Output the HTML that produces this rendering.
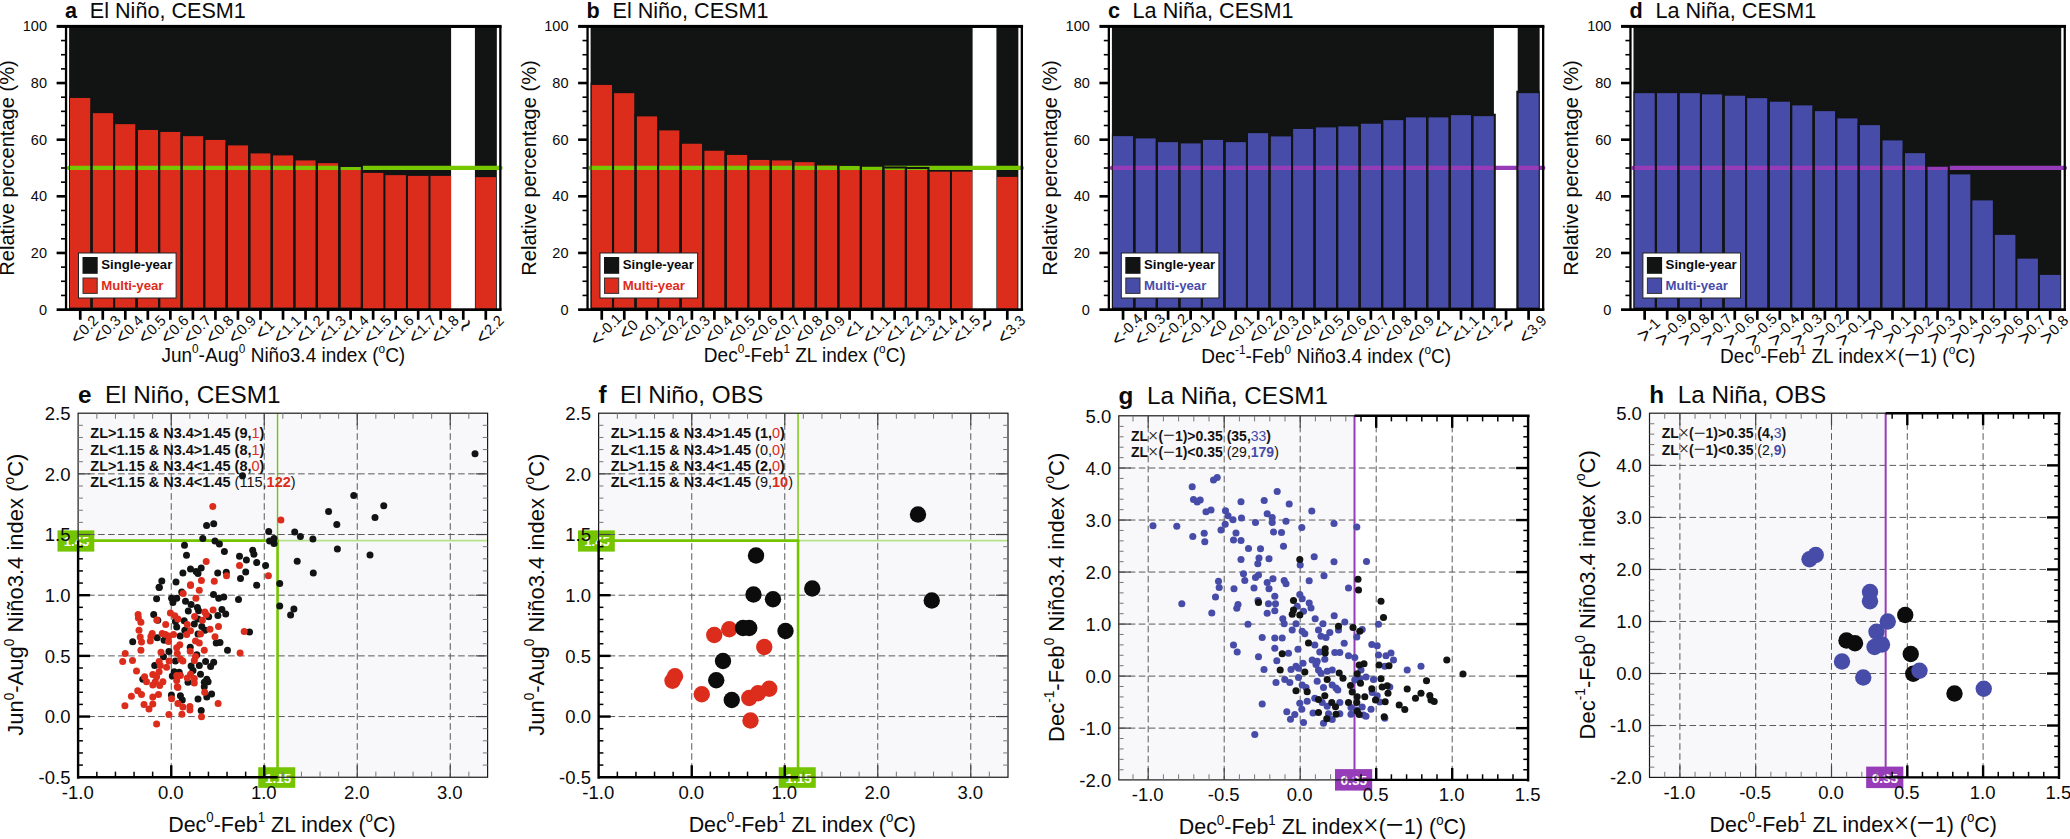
<!DOCTYPE html>
<html><head><meta charset="utf-8"><title>Figure</title>
<style>
html,body{margin:0;padding:0;background:#fff;}
svg{display:block;font-family:'Liberation Sans', Arial, Helvetica, sans-serif;}

</style></head>
<body>
<svg width="2070" height="839" viewBox="0 0 2070 839" fill="#0a0a0a">
<rect width="2070" height="839" fill="#fff"/>
<g>
<text x="65.1" y="17.8" font-size="21.6" xml:space="preserve" style="white-space:pre"><tspan font-weight="bold">a</tspan><tspan dx="0.7">  El Niño, CESM1</tspan></text>
<rect x="69.10" y="26.40" width="427.74" height="283.20" fill="#121413"/>
<rect x="70.00" y="97.90" width="20.50" height="211.70" fill="#dc2c1b"/>
<rect x="92.53" y="113.15" width="20.50" height="196.45" fill="#dc2c1b"/>
<rect x="115.06" y="124.15" width="20.50" height="185.45" fill="#dc2c1b"/>
<rect x="137.59" y="129.90" width="20.50" height="179.70" fill="#dc2c1b"/>
<rect x="160.12" y="131.90" width="20.50" height="177.70" fill="#dc2c1b"/>
<rect x="182.65" y="136.15" width="20.50" height="173.45" fill="#dc2c1b"/>
<rect x="205.18" y="139.90" width="20.50" height="169.70" fill="#dc2c1b"/>
<rect x="227.71" y="145.40" width="20.50" height="164.20" fill="#dc2c1b"/>
<rect x="250.24" y="153.40" width="20.50" height="156.20" fill="#dc2c1b"/>
<rect x="272.77" y="155.40" width="20.50" height="154.20" fill="#dc2c1b"/>
<rect x="295.30" y="160.40" width="20.50" height="149.20" fill="#dc2c1b"/>
<rect x="317.83" y="163.15" width="20.50" height="146.45" fill="#dc2c1b"/>
<rect x="340.36" y="167.40" width="20.50" height="142.20" fill="#dc2c1b"/>
<rect x="362.89" y="172.90" width="20.50" height="136.70" fill="#dc2c1b"/>
<rect x="385.42" y="175.15" width="20.50" height="134.45" fill="#dc2c1b"/>
<rect x="407.95" y="175.90" width="20.50" height="133.70" fill="#dc2c1b"/>
<rect x="430.48" y="175.90" width="20.50" height="133.70" fill="#dc2c1b"/>
<rect x="451.11" y="27.80" width="23.80" height="283.20" fill="#fff"/>
<rect x="475.54" y="177.15" width="20.50" height="132.45" fill="#dc2c1b"/>
<rect x="67.20" y="165.7" width="435.20" height="4.35" rx="1.5" fill="#76c600"/>
<clipPath id="cp0"><rect x="69.10" y="26.40" width="427.74" height="283.20"/></clipPath>
<g clip-path="url(#cp0)">
<rect x="68.98" y="96.48" width="22.53" height="212.10" fill="none" stroke="#121413" stroke-width="2.03"/>
<rect x="91.52" y="111.73" width="22.53" height="196.85" fill="none" stroke="#121413" stroke-width="2.03"/>
<rect x="114.05" y="122.73" width="22.53" height="185.85" fill="none" stroke="#121413" stroke-width="2.03"/>
<rect x="136.57" y="128.49" width="22.53" height="180.10" fill="none" stroke="#121413" stroke-width="2.03"/>
<rect x="159.11" y="130.49" width="22.53" height="178.10" fill="none" stroke="#121413" stroke-width="2.03"/>
<rect x="181.63" y="134.74" width="22.53" height="173.85" fill="none" stroke="#121413" stroke-width="2.03"/>
<rect x="204.17" y="138.49" width="22.53" height="170.10" fill="none" stroke="#121413" stroke-width="2.03"/>
<rect x="226.69" y="143.99" width="22.53" height="164.60" fill="none" stroke="#121413" stroke-width="2.03"/>
<rect x="249.23" y="151.99" width="22.53" height="156.60" fill="none" stroke="#121413" stroke-width="2.03"/>
<rect x="271.75" y="153.99" width="22.53" height="154.60" fill="none" stroke="#121413" stroke-width="2.03"/>
<rect x="294.29" y="158.99" width="22.53" height="149.60" fill="none" stroke="#121413" stroke-width="2.03"/>
<rect x="316.82" y="161.74" width="22.53" height="146.85" fill="none" stroke="#121413" stroke-width="2.03"/>
<rect x="339.35" y="165.99" width="22.53" height="142.60" fill="none" stroke="#121413" stroke-width="2.03"/>
</g>
<rect x="56.60" y="24.90" width="445.00" height="3" fill="#000"/>
<rect x="56.60" y="308.30" width="445.00" height="2.7" fill="#000"/>
<rect x="64.90" y="26.40" width="2.3" height="283.20" fill="#000"/>
<rect x="499.20" y="26.40" width="2.3" height="283.20" fill="#000"/>
<text x="47.00" y="314.50" font-size="14.5" text-anchor="end">0</text>
<rect x="61.00" y="294.64" width="5.0" height="1.6" fill="#000"/>
<rect x="61.00" y="280.48" width="5.0" height="1.6" fill="#000"/>
<rect x="61.00" y="266.32" width="5.0" height="1.6" fill="#000"/>
<rect x="56.60" y="251.66" width="9.4" height="2.6" fill="#000"/>
<text x="47.00" y="257.86" font-size="14.5" text-anchor="end">20</text>
<rect x="61.00" y="238.00" width="5.0" height="1.6" fill="#000"/>
<rect x="61.00" y="223.84" width="5.0" height="1.6" fill="#000"/>
<rect x="61.00" y="209.68" width="5.0" height="1.6" fill="#000"/>
<rect x="56.60" y="195.02" width="9.4" height="2.6" fill="#000"/>
<text x="47.00" y="201.22" font-size="14.5" text-anchor="end">40</text>
<rect x="61.00" y="181.36" width="5.0" height="1.6" fill="#000"/>
<rect x="61.00" y="167.20" width="5.0" height="1.6" fill="#000"/>
<rect x="61.00" y="153.04" width="5.0" height="1.6" fill="#000"/>
<rect x="56.60" y="138.38" width="9.4" height="2.6" fill="#000"/>
<text x="47.00" y="144.58" font-size="14.5" text-anchor="end">60</text>
<rect x="61.00" y="124.72" width="5.0" height="1.6" fill="#000"/>
<rect x="61.00" y="110.56" width="5.0" height="1.6" fill="#000"/>
<rect x="61.00" y="96.40" width="5.0" height="1.6" fill="#000"/>
<rect x="56.60" y="81.74" width="9.4" height="2.6" fill="#000"/>
<text x="47.00" y="87.94" font-size="14.5" text-anchor="end">80</text>
<rect x="61.00" y="68.08" width="5.0" height="1.6" fill="#000"/>
<rect x="61.00" y="53.92" width="5.0" height="1.6" fill="#000"/>
<rect x="61.00" y="39.76" width="5.0" height="1.6" fill="#000"/>
<text x="47.00" y="31.30" font-size="14.5" text-anchor="end">100</text>
<rect x="78.90" y="309.60" width="2.7" height="10.2" fill="#000"/>
<g transform="translate(85.25,328) rotate(-45)" font-size="14.8"><text x="-5.97" y="5.33">0.2</text><text transform="translate(-6.47,0.8) scale(1.3,1.45)" x="0" y="4.87" text-anchor="end">&lt;</text></g>
<rect x="101.43" y="309.60" width="2.7" height="10.2" fill="#000"/>
<g transform="translate(107.78,328) rotate(-45)" font-size="14.8"><text x="-5.97" y="5.33">0.3</text><text transform="translate(-6.47,0.8) scale(1.3,1.45)" x="0" y="4.87" text-anchor="end">&lt;</text></g>
<rect x="123.96" y="309.60" width="2.7" height="10.2" fill="#000"/>
<g transform="translate(130.31,328) rotate(-45)" font-size="14.8"><text x="-5.97" y="5.33">0.4</text><text transform="translate(-6.47,0.8) scale(1.3,1.45)" x="0" y="4.87" text-anchor="end">&lt;</text></g>
<rect x="146.49" y="309.60" width="2.7" height="10.2" fill="#000"/>
<g transform="translate(152.84,328) rotate(-45)" font-size="14.8"><text x="-5.97" y="5.33">0.5</text><text transform="translate(-6.47,0.8) scale(1.3,1.45)" x="0" y="4.87" text-anchor="end">&lt;</text></g>
<rect x="169.02" y="309.60" width="2.7" height="10.2" fill="#000"/>
<g transform="translate(175.37,328) rotate(-45)" font-size="14.8"><text x="-5.97" y="5.33">0.6</text><text transform="translate(-6.47,0.8) scale(1.3,1.45)" x="0" y="4.87" text-anchor="end">&lt;</text></g>
<rect x="191.55" y="309.60" width="2.7" height="10.2" fill="#000"/>
<g transform="translate(197.90,328) rotate(-45)" font-size="14.8"><text x="-5.97" y="5.33">0.7</text><text transform="translate(-6.47,0.8) scale(1.3,1.45)" x="0" y="4.87" text-anchor="end">&lt;</text></g>
<rect x="214.08" y="309.60" width="2.7" height="10.2" fill="#000"/>
<g transform="translate(220.43,328) rotate(-45)" font-size="14.8"><text x="-5.97" y="5.33">0.8</text><text transform="translate(-6.47,0.8) scale(1.3,1.45)" x="0" y="4.87" text-anchor="end">&lt;</text></g>
<rect x="236.61" y="309.60" width="2.7" height="10.2" fill="#000"/>
<g transform="translate(242.96,328) rotate(-45)" font-size="14.8"><text x="-5.97" y="5.33">0.9</text><text transform="translate(-6.47,0.8) scale(1.3,1.45)" x="0" y="4.87" text-anchor="end">&lt;</text></g>
<rect x="259.14" y="309.60" width="2.7" height="10.2" fill="#000"/>
<g transform="translate(265.49,328) rotate(-45)" font-size="14.8"><text x="0.21" y="5.33">1</text><text transform="translate(-0.29,0.8) scale(1.3,1.45)" x="0" y="4.87" text-anchor="end">&lt;</text></g>
<rect x="281.67" y="309.60" width="2.7" height="10.2" fill="#000"/>
<g transform="translate(288.02,328) rotate(-45)" font-size="14.8"><text x="-5.97" y="5.33">1.1</text><text transform="translate(-6.47,0.8) scale(1.3,1.45)" x="0" y="4.87" text-anchor="end">&lt;</text></g>
<rect x="304.20" y="309.60" width="2.7" height="10.2" fill="#000"/>
<g transform="translate(310.55,328) rotate(-45)" font-size="14.8"><text x="-5.97" y="5.33">1.2</text><text transform="translate(-6.47,0.8) scale(1.3,1.45)" x="0" y="4.87" text-anchor="end">&lt;</text></g>
<rect x="326.73" y="309.60" width="2.7" height="10.2" fill="#000"/>
<g transform="translate(333.08,328) rotate(-45)" font-size="14.8"><text x="-5.97" y="5.33">1.3</text><text transform="translate(-6.47,0.8) scale(1.3,1.45)" x="0" y="4.87" text-anchor="end">&lt;</text></g>
<rect x="349.26" y="309.60" width="2.7" height="10.2" fill="#000"/>
<g transform="translate(355.61,328) rotate(-45)" font-size="14.8"><text x="-5.97" y="5.33">1.4</text><text transform="translate(-6.47,0.8) scale(1.3,1.45)" x="0" y="4.87" text-anchor="end">&lt;</text></g>
<rect x="371.79" y="309.60" width="2.7" height="10.2" fill="#000"/>
<g transform="translate(378.14,328) rotate(-45)" font-size="14.8"><text x="-5.97" y="5.33">1.5</text><text transform="translate(-6.47,0.8) scale(1.3,1.45)" x="0" y="4.87" text-anchor="end">&lt;</text></g>
<rect x="394.32" y="309.60" width="2.7" height="10.2" fill="#000"/>
<g transform="translate(400.67,328) rotate(-45)" font-size="14.8"><text x="-5.97" y="5.33">1.6</text><text transform="translate(-6.47,0.8) scale(1.3,1.45)" x="0" y="4.87" text-anchor="end">&lt;</text></g>
<rect x="416.85" y="309.60" width="2.7" height="10.2" fill="#000"/>
<g transform="translate(423.20,328) rotate(-45)" font-size="14.8"><text x="-5.97" y="5.33">1.7</text><text transform="translate(-6.47,0.8) scale(1.3,1.45)" x="0" y="4.87" text-anchor="end">&lt;</text></g>
<rect x="439.38" y="309.60" width="2.7" height="10.2" fill="#000"/>
<g transform="translate(445.73,328) rotate(-45)" font-size="14.8"><text x="-5.97" y="5.33">1.8</text><text transform="translate(-6.47,0.8) scale(1.3,1.45)" x="0" y="4.87" text-anchor="end">&lt;</text></g>
<rect x="461.91" y="309.60" width="2.7" height="10.2" fill="#000"/>
<text transform="translate(465.56,325.6) rotate(-45) scale(1.0,1.6)" font-family="'DejaVu Sans', 'Liberation Sans', sans-serif" font-weight="200" stroke="#0a0a0a" stroke-width="0.35" font-size="19" text-anchor="middle" y="5.96">~</text>
<rect x="484.44" y="309.60" width="2.7" height="10.2" fill="#000"/>
<g transform="translate(490.79,328) rotate(-45)" font-size="14.8"><text x="-5.97" y="5.33">2.2</text><text transform="translate(-6.47,0.8) scale(1.3,1.45)" x="0" y="4.87" text-anchor="end">&lt;</text></g>
<text transform="translate(283.30,361.7) scale(0.915,1)" font-size="20.8" text-anchor="middle">Jun<tspan dy="-8.74" font-size="12.90">0</tspan><tspan dy="8.74">​</tspan>-Aug<tspan dy="-8.74" font-size="12.90">0</tspan><tspan dy="8.74">​</tspan> Niño3.4 index (<tspan dy="-8.74" font-size="12.90">o</tspan><tspan dy="8.74">​</tspan>C)</text>
<text transform="translate(14.00,168.0) rotate(-90) scale(0.99,1)" font-size="20.3" text-anchor="middle">Relative percentage (%)</text>
<rect x="78.50" y="253" width="97.6" height="45" fill="#fff" stroke="#222" stroke-width="1"/>
<rect x="82.50" y="257" width="15.2" height="16.8" fill="#121413"/>
<rect x="83.00" y="278" width="14.2" height="15.4" fill="#dc2c1b" stroke="#333" stroke-width="1"/>
<text x="101.20" y="269.2" font-size="13.2" font-weight="bold">Single-year</text>
<text x="101.20" y="289.6" font-size="13.2" font-weight="bold" fill="#dc2c1b">Multi-year</text>
</g>
<g>
<text x="586.6" y="17.8" font-size="21.6" xml:space="preserve" style="white-space:pre"><tspan font-weight="bold">b</tspan><tspan dx="0.7">  El Niño, CESM1</tspan></text>
<rect x="590.60" y="26.40" width="427.74" height="283.20" fill="#121413"/>
<rect x="591.50" y="84.90" width="20.50" height="224.70" fill="#dc2c1b"/>
<rect x="614.03" y="93.15" width="20.50" height="216.45" fill="#dc2c1b"/>
<rect x="636.56" y="116.40" width="20.50" height="193.20" fill="#dc2c1b"/>
<rect x="659.09" y="130.40" width="20.50" height="179.20" fill="#dc2c1b"/>
<rect x="681.62" y="143.65" width="20.50" height="165.95" fill="#dc2c1b"/>
<rect x="704.15" y="150.65" width="20.50" height="158.95" fill="#dc2c1b"/>
<rect x="726.68" y="154.90" width="20.50" height="154.70" fill="#dc2c1b"/>
<rect x="749.21" y="159.90" width="20.50" height="149.70" fill="#dc2c1b"/>
<rect x="771.74" y="160.40" width="20.50" height="149.20" fill="#dc2c1b"/>
<rect x="794.27" y="162.15" width="20.50" height="147.45" fill="#dc2c1b"/>
<rect x="816.80" y="165.40" width="20.50" height="144.20" fill="#dc2c1b"/>
<rect x="839.33" y="166.15" width="20.50" height="143.45" fill="#dc2c1b"/>
<rect x="861.86" y="167.15" width="20.50" height="142.45" fill="#dc2c1b"/>
<rect x="884.39" y="168.90" width="20.50" height="140.70" fill="#dc2c1b"/>
<rect x="906.92" y="169.40" width="20.50" height="140.20" fill="#dc2c1b"/>
<rect x="929.45" y="171.65" width="20.50" height="137.95" fill="#dc2c1b"/>
<rect x="951.98" y="171.65" width="20.50" height="137.95" fill="#dc2c1b"/>
<rect x="972.61" y="27.80" width="23.80" height="283.20" fill="#fff"/>
<rect x="997.04" y="176.90" width="20.50" height="132.70" fill="#dc2c1b"/>
<rect x="588.70" y="165.7" width="435.20" height="4.35" rx="1.5" fill="#76c600"/>
<clipPath id="cp1"><rect x="590.60" y="26.40" width="427.74" height="283.20"/></clipPath>
<g clip-path="url(#cp1)">
<rect x="590.49" y="83.48" width="22.53" height="225.10" fill="none" stroke="#121413" stroke-width="2.03"/>
<rect x="613.01" y="91.73" width="22.53" height="216.85" fill="none" stroke="#121413" stroke-width="2.03"/>
<rect x="635.54" y="114.98" width="22.53" height="193.60" fill="none" stroke="#121413" stroke-width="2.03"/>
<rect x="658.08" y="128.99" width="22.53" height="179.60" fill="none" stroke="#121413" stroke-width="2.03"/>
<rect x="680.61" y="142.24" width="22.53" height="166.35" fill="none" stroke="#121413" stroke-width="2.03"/>
<rect x="703.13" y="149.24" width="22.53" height="159.35" fill="none" stroke="#121413" stroke-width="2.03"/>
<rect x="725.67" y="153.49" width="22.53" height="155.10" fill="none" stroke="#121413" stroke-width="2.03"/>
<rect x="748.20" y="158.49" width="22.53" height="150.10" fill="none" stroke="#121413" stroke-width="2.03"/>
<rect x="770.73" y="158.99" width="22.53" height="149.60" fill="none" stroke="#121413" stroke-width="2.03"/>
<rect x="793.25" y="160.74" width="22.53" height="147.85" fill="none" stroke="#121413" stroke-width="2.03"/>
<rect x="815.78" y="163.99" width="22.53" height="144.60" fill="none" stroke="#121413" stroke-width="2.03"/>
<rect x="838.32" y="164.74" width="22.53" height="143.85" fill="none" stroke="#121413" stroke-width="2.03"/>
<rect x="860.85" y="165.74" width="22.53" height="142.85" fill="none" stroke="#121413" stroke-width="2.03"/>
<rect x="883.38" y="167.49" width="22.53" height="141.10" fill="none" stroke="#121413" stroke-width="2.03"/>
<rect x="905.91" y="167.99" width="22.53" height="140.60" fill="none" stroke="#121413" stroke-width="2.03"/>
</g>
<rect x="578.10" y="24.90" width="445.00" height="3" fill="#000"/>
<rect x="578.10" y="308.30" width="445.00" height="2.7" fill="#000"/>
<rect x="586.40" y="26.40" width="2.3" height="283.20" fill="#000"/>
<rect x="1020.70" y="26.40" width="2.3" height="283.20" fill="#000"/>
<text x="568.50" y="314.50" font-size="14.5" text-anchor="end">0</text>
<rect x="582.50" y="294.64" width="5.0" height="1.6" fill="#000"/>
<rect x="582.50" y="280.48" width="5.0" height="1.6" fill="#000"/>
<rect x="582.50" y="266.32" width="5.0" height="1.6" fill="#000"/>
<rect x="578.10" y="251.66" width="9.4" height="2.6" fill="#000"/>
<text x="568.50" y="257.86" font-size="14.5" text-anchor="end">20</text>
<rect x="582.50" y="238.00" width="5.0" height="1.6" fill="#000"/>
<rect x="582.50" y="223.84" width="5.0" height="1.6" fill="#000"/>
<rect x="582.50" y="209.68" width="5.0" height="1.6" fill="#000"/>
<rect x="578.10" y="195.02" width="9.4" height="2.6" fill="#000"/>
<text x="568.50" y="201.22" font-size="14.5" text-anchor="end">40</text>
<rect x="582.50" y="181.36" width="5.0" height="1.6" fill="#000"/>
<rect x="582.50" y="167.20" width="5.0" height="1.6" fill="#000"/>
<rect x="582.50" y="153.04" width="5.0" height="1.6" fill="#000"/>
<rect x="578.10" y="138.38" width="9.4" height="2.6" fill="#000"/>
<text x="568.50" y="144.58" font-size="14.5" text-anchor="end">60</text>
<rect x="582.50" y="124.72" width="5.0" height="1.6" fill="#000"/>
<rect x="582.50" y="110.56" width="5.0" height="1.6" fill="#000"/>
<rect x="582.50" y="96.40" width="5.0" height="1.6" fill="#000"/>
<rect x="578.10" y="81.74" width="9.4" height="2.6" fill="#000"/>
<text x="568.50" y="87.94" font-size="14.5" text-anchor="end">80</text>
<rect x="582.50" y="68.08" width="5.0" height="1.6" fill="#000"/>
<rect x="582.50" y="53.92" width="5.0" height="1.6" fill="#000"/>
<rect x="582.50" y="39.76" width="5.0" height="1.6" fill="#000"/>
<text x="568.50" y="31.30" font-size="14.5" text-anchor="end">100</text>
<rect x="600.40" y="309.60" width="2.7" height="10.2" fill="#000"/>
<g transform="translate(606.75,328) rotate(-45)" font-size="14.8"><text x="-8.43" y="5.33">-0.1</text><text transform="translate(-8.93,0.8) scale(1.3,1.45)" x="0" y="4.87" text-anchor="end">&lt;</text></g>
<rect x="622.93" y="309.60" width="2.7" height="10.2" fill="#000"/>
<g transform="translate(629.28,328) rotate(-45)" font-size="14.8"><text x="0.21" y="5.33">0</text><text transform="translate(-0.29,0.8) scale(1.3,1.45)" x="0" y="4.87" text-anchor="end">&lt;</text></g>
<rect x="645.46" y="309.60" width="2.7" height="10.2" fill="#000"/>
<g transform="translate(651.81,328) rotate(-45)" font-size="14.8"><text x="-5.97" y="5.33">0.1</text><text transform="translate(-6.47,0.8) scale(1.3,1.45)" x="0" y="4.87" text-anchor="end">&lt;</text></g>
<rect x="667.99" y="309.60" width="2.7" height="10.2" fill="#000"/>
<g transform="translate(674.34,328) rotate(-45)" font-size="14.8"><text x="-5.97" y="5.33">0.2</text><text transform="translate(-6.47,0.8) scale(1.3,1.45)" x="0" y="4.87" text-anchor="end">&lt;</text></g>
<rect x="690.52" y="309.60" width="2.7" height="10.2" fill="#000"/>
<g transform="translate(696.87,328) rotate(-45)" font-size="14.8"><text x="-5.97" y="5.33">0.3</text><text transform="translate(-6.47,0.8) scale(1.3,1.45)" x="0" y="4.87" text-anchor="end">&lt;</text></g>
<rect x="713.05" y="309.60" width="2.7" height="10.2" fill="#000"/>
<g transform="translate(719.40,328) rotate(-45)" font-size="14.8"><text x="-5.97" y="5.33">0.4</text><text transform="translate(-6.47,0.8) scale(1.3,1.45)" x="0" y="4.87" text-anchor="end">&lt;</text></g>
<rect x="735.58" y="309.60" width="2.7" height="10.2" fill="#000"/>
<g transform="translate(741.93,328) rotate(-45)" font-size="14.8"><text x="-5.97" y="5.33">0.5</text><text transform="translate(-6.47,0.8) scale(1.3,1.45)" x="0" y="4.87" text-anchor="end">&lt;</text></g>
<rect x="758.11" y="309.60" width="2.7" height="10.2" fill="#000"/>
<g transform="translate(764.46,328) rotate(-45)" font-size="14.8"><text x="-5.97" y="5.33">0.6</text><text transform="translate(-6.47,0.8) scale(1.3,1.45)" x="0" y="4.87" text-anchor="end">&lt;</text></g>
<rect x="780.64" y="309.60" width="2.7" height="10.2" fill="#000"/>
<g transform="translate(786.99,328) rotate(-45)" font-size="14.8"><text x="-5.97" y="5.33">0.7</text><text transform="translate(-6.47,0.8) scale(1.3,1.45)" x="0" y="4.87" text-anchor="end">&lt;</text></g>
<rect x="803.17" y="309.60" width="2.7" height="10.2" fill="#000"/>
<g transform="translate(809.52,328) rotate(-45)" font-size="14.8"><text x="-5.97" y="5.33">0.8</text><text transform="translate(-6.47,0.8) scale(1.3,1.45)" x="0" y="4.87" text-anchor="end">&lt;</text></g>
<rect x="825.70" y="309.60" width="2.7" height="10.2" fill="#000"/>
<g transform="translate(832.05,328) rotate(-45)" font-size="14.8"><text x="-5.97" y="5.33">0.9</text><text transform="translate(-6.47,0.8) scale(1.3,1.45)" x="0" y="4.87" text-anchor="end">&lt;</text></g>
<rect x="848.23" y="309.60" width="2.7" height="10.2" fill="#000"/>
<g transform="translate(854.58,328) rotate(-45)" font-size="14.8"><text x="0.21" y="5.33">1</text><text transform="translate(-0.29,0.8) scale(1.3,1.45)" x="0" y="4.87" text-anchor="end">&lt;</text></g>
<rect x="870.76" y="309.60" width="2.7" height="10.2" fill="#000"/>
<g transform="translate(877.11,328) rotate(-45)" font-size="14.8"><text x="-5.97" y="5.33">1.1</text><text transform="translate(-6.47,0.8) scale(1.3,1.45)" x="0" y="4.87" text-anchor="end">&lt;</text></g>
<rect x="893.29" y="309.60" width="2.7" height="10.2" fill="#000"/>
<g transform="translate(899.64,328) rotate(-45)" font-size="14.8"><text x="-5.97" y="5.33">1.2</text><text transform="translate(-6.47,0.8) scale(1.3,1.45)" x="0" y="4.87" text-anchor="end">&lt;</text></g>
<rect x="915.82" y="309.60" width="2.7" height="10.2" fill="#000"/>
<g transform="translate(922.17,328) rotate(-45)" font-size="14.8"><text x="-5.97" y="5.33">1.3</text><text transform="translate(-6.47,0.8) scale(1.3,1.45)" x="0" y="4.87" text-anchor="end">&lt;</text></g>
<rect x="938.35" y="309.60" width="2.7" height="10.2" fill="#000"/>
<g transform="translate(944.70,328) rotate(-45)" font-size="14.8"><text x="-5.97" y="5.33">1.4</text><text transform="translate(-6.47,0.8) scale(1.3,1.45)" x="0" y="4.87" text-anchor="end">&lt;</text></g>
<rect x="960.88" y="309.60" width="2.7" height="10.2" fill="#000"/>
<g transform="translate(967.23,328) rotate(-45)" font-size="14.8"><text x="-5.97" y="5.33">1.5</text><text transform="translate(-6.47,0.8) scale(1.3,1.45)" x="0" y="4.87" text-anchor="end">&lt;</text></g>
<rect x="983.41" y="309.60" width="2.7" height="10.2" fill="#000"/>
<text transform="translate(987.06,325.6) rotate(-45) scale(1.0,1.6)" font-family="'DejaVu Sans', 'Liberation Sans', sans-serif" font-weight="200" stroke="#0a0a0a" stroke-width="0.35" font-size="19" text-anchor="middle" y="5.96">~</text>
<rect x="1005.94" y="309.60" width="2.7" height="10.2" fill="#000"/>
<g transform="translate(1012.29,328) rotate(-45)" font-size="14.8"><text x="-5.97" y="5.33">3.3</text><text transform="translate(-6.47,0.8) scale(1.3,1.45)" x="0" y="4.87" text-anchor="end">&lt;</text></g>
<text transform="translate(804.80,361.7) scale(0.915,1)" font-size="20.8" text-anchor="middle">Dec<tspan dy="-8.74" font-size="12.90">0</tspan><tspan dy="8.74">​</tspan>-Feb<tspan dy="-8.74" font-size="12.90">1</tspan><tspan dy="8.74">​</tspan> ZL index (<tspan dy="-8.74" font-size="12.90">o</tspan><tspan dy="8.74">​</tspan>C)</text>
<text transform="translate(535.50,168.0) rotate(-90) scale(0.99,1)" font-size="20.3" text-anchor="middle">Relative percentage (%)</text>
<rect x="600.00" y="253" width="97.6" height="45" fill="#fff" stroke="#222" stroke-width="1"/>
<rect x="604.00" y="257" width="15.2" height="16.8" fill="#121413"/>
<rect x="604.50" y="278" width="14.2" height="15.4" fill="#dc2c1b" stroke="#333" stroke-width="1"/>
<text x="622.70" y="269.2" font-size="13.2" font-weight="bold">Single-year</text>
<text x="622.70" y="289.6" font-size="13.2" font-weight="bold" fill="#dc2c1b">Multi-year</text>
</g>
<g>
<text x="1107.9" y="17.8" font-size="21.6" xml:space="preserve" style="white-space:pre"><tspan font-weight="bold">c</tspan><tspan dx="0.7">  La Niña, CESM1</tspan></text>
<rect x="1111.90" y="26.40" width="427.74" height="283.20" fill="#121413"/>
<rect x="1112.80" y="136.15" width="20.50" height="173.45" fill="#474ca9"/>
<rect x="1135.33" y="138.40" width="20.50" height="171.20" fill="#474ca9"/>
<rect x="1157.86" y="142.15" width="20.50" height="167.45" fill="#474ca9"/>
<rect x="1180.39" y="143.40" width="20.50" height="166.20" fill="#474ca9"/>
<rect x="1202.92" y="139.90" width="20.50" height="169.70" fill="#474ca9"/>
<rect x="1225.45" y="142.15" width="20.50" height="167.45" fill="#474ca9"/>
<rect x="1247.98" y="133.15" width="20.50" height="176.45" fill="#474ca9"/>
<rect x="1270.51" y="136.40" width="20.50" height="173.20" fill="#474ca9"/>
<rect x="1293.04" y="128.90" width="20.50" height="180.70" fill="#474ca9"/>
<rect x="1315.57" y="127.40" width="20.50" height="182.20" fill="#474ca9"/>
<rect x="1338.10" y="126.40" width="20.50" height="183.20" fill="#474ca9"/>
<rect x="1360.63" y="123.65" width="20.50" height="185.95" fill="#474ca9"/>
<rect x="1383.16" y="120.15" width="20.50" height="189.45" fill="#474ca9"/>
<rect x="1405.69" y="117.40" width="20.50" height="192.20" fill="#474ca9"/>
<rect x="1428.22" y="117.40" width="20.50" height="192.20" fill="#474ca9"/>
<rect x="1450.75" y="115.15" width="20.50" height="194.45" fill="#474ca9"/>
<rect x="1473.28" y="116.15" width="20.50" height="193.45" fill="#474ca9"/>
<rect x="1493.91" y="27.80" width="23.80" height="283.20" fill="#fff"/>
<rect x="1518.34" y="93.15" width="20.50" height="216.45" fill="#474ca9"/>
<rect x="1110.00" y="165.7" width="435.20" height="4.35" rx="1.5" fill="#963cb8"/>
<clipPath id="cp2"><rect x="1111.90" y="26.40" width="427.74" height="283.20"/></clipPath>
<g clip-path="url(#cp2)">
<rect x="1111.78" y="134.74" width="22.53" height="173.85" fill="none" stroke="#121413" stroke-width="2.03"/>
<rect x="1134.31" y="136.99" width="22.53" height="171.60" fill="none" stroke="#121413" stroke-width="2.03"/>
<rect x="1156.84" y="140.74" width="22.53" height="167.85" fill="none" stroke="#121413" stroke-width="2.03"/>
<rect x="1179.37" y="141.99" width="22.53" height="166.60" fill="none" stroke="#121413" stroke-width="2.03"/>
<rect x="1201.90" y="138.49" width="22.53" height="170.10" fill="none" stroke="#121413" stroke-width="2.03"/>
<rect x="1224.43" y="140.74" width="22.53" height="167.85" fill="none" stroke="#121413" stroke-width="2.03"/>
<rect x="1246.96" y="131.74" width="22.53" height="176.85" fill="none" stroke="#121413" stroke-width="2.03"/>
<rect x="1269.49" y="134.99" width="22.53" height="173.60" fill="none" stroke="#121413" stroke-width="2.03"/>
<rect x="1292.02" y="127.48" width="22.53" height="181.10" fill="none" stroke="#121413" stroke-width="2.03"/>
<rect x="1314.55" y="125.98" width="22.53" height="182.60" fill="none" stroke="#121413" stroke-width="2.03"/>
<rect x="1337.08" y="124.98" width="22.53" height="183.60" fill="none" stroke="#121413" stroke-width="2.03"/>
<rect x="1359.61" y="122.23" width="22.53" height="186.35" fill="none" stroke="#121413" stroke-width="2.03"/>
<rect x="1382.14" y="118.73" width="22.53" height="189.85" fill="none" stroke="#121413" stroke-width="2.03"/>
<rect x="1404.67" y="115.98" width="22.53" height="192.60" fill="none" stroke="#121413" stroke-width="2.03"/>
<rect x="1427.20" y="115.98" width="22.53" height="192.60" fill="none" stroke="#121413" stroke-width="2.03"/>
<rect x="1449.73" y="113.73" width="22.53" height="194.85" fill="none" stroke="#121413" stroke-width="2.03"/>
<rect x="1472.26" y="114.73" width="22.53" height="193.85" fill="none" stroke="#121413" stroke-width="2.03"/>
<rect x="1517.32" y="91.73" width="22.53" height="216.85" fill="none" stroke="#121413" stroke-width="2.03"/>
</g>
<rect x="1099.40" y="24.90" width="445.00" height="3" fill="#000"/>
<rect x="1099.40" y="308.30" width="445.00" height="2.7" fill="#000"/>
<rect x="1107.70" y="26.40" width="2.3" height="283.20" fill="#000"/>
<rect x="1542.00" y="26.40" width="2.3" height="283.20" fill="#000"/>
<text x="1089.80" y="314.50" font-size="14.5" text-anchor="end">0</text>
<rect x="1103.80" y="294.64" width="5.0" height="1.6" fill="#000"/>
<rect x="1103.80" y="280.48" width="5.0" height="1.6" fill="#000"/>
<rect x="1103.80" y="266.32" width="5.0" height="1.6" fill="#000"/>
<rect x="1099.40" y="251.66" width="9.4" height="2.6" fill="#000"/>
<text x="1089.80" y="257.86" font-size="14.5" text-anchor="end">20</text>
<rect x="1103.80" y="238.00" width="5.0" height="1.6" fill="#000"/>
<rect x="1103.80" y="223.84" width="5.0" height="1.6" fill="#000"/>
<rect x="1103.80" y="209.68" width="5.0" height="1.6" fill="#000"/>
<rect x="1099.40" y="195.02" width="9.4" height="2.6" fill="#000"/>
<text x="1089.80" y="201.22" font-size="14.5" text-anchor="end">40</text>
<rect x="1103.80" y="181.36" width="5.0" height="1.6" fill="#000"/>
<rect x="1103.80" y="167.20" width="5.0" height="1.6" fill="#000"/>
<rect x="1103.80" y="153.04" width="5.0" height="1.6" fill="#000"/>
<rect x="1099.40" y="138.38" width="9.4" height="2.6" fill="#000"/>
<text x="1089.80" y="144.58" font-size="14.5" text-anchor="end">60</text>
<rect x="1103.80" y="124.72" width="5.0" height="1.6" fill="#000"/>
<rect x="1103.80" y="110.56" width="5.0" height="1.6" fill="#000"/>
<rect x="1103.80" y="96.40" width="5.0" height="1.6" fill="#000"/>
<rect x="1099.40" y="81.74" width="9.4" height="2.6" fill="#000"/>
<text x="1089.80" y="87.94" font-size="14.5" text-anchor="end">80</text>
<rect x="1103.80" y="68.08" width="5.0" height="1.6" fill="#000"/>
<rect x="1103.80" y="53.92" width="5.0" height="1.6" fill="#000"/>
<rect x="1103.80" y="39.76" width="5.0" height="1.6" fill="#000"/>
<text x="1089.80" y="31.30" font-size="14.5" text-anchor="end">100</text>
<rect x="1121.70" y="309.60" width="2.7" height="10.2" fill="#000"/>
<g transform="translate(1128.05,328) rotate(-45)" font-size="14.8"><text x="-8.43" y="5.33">-0.4</text><text transform="translate(-8.93,0.8) scale(1.3,1.45)" x="0" y="4.87" text-anchor="end">&lt;</text></g>
<rect x="1144.23" y="309.60" width="2.7" height="10.2" fill="#000"/>
<g transform="translate(1150.58,328) rotate(-45)" font-size="14.8"><text x="-8.43" y="5.33">-0.3</text><text transform="translate(-8.93,0.8) scale(1.3,1.45)" x="0" y="4.87" text-anchor="end">&lt;</text></g>
<rect x="1166.76" y="309.60" width="2.7" height="10.2" fill="#000"/>
<g transform="translate(1173.11,328) rotate(-45)" font-size="14.8"><text x="-8.43" y="5.33">-0.2</text><text transform="translate(-8.93,0.8) scale(1.3,1.45)" x="0" y="4.87" text-anchor="end">&lt;</text></g>
<rect x="1189.29" y="309.60" width="2.7" height="10.2" fill="#000"/>
<g transform="translate(1195.64,328) rotate(-45)" font-size="14.8"><text x="-8.43" y="5.33">-0.1</text><text transform="translate(-8.93,0.8) scale(1.3,1.45)" x="0" y="4.87" text-anchor="end">&lt;</text></g>
<rect x="1211.82" y="309.60" width="2.7" height="10.2" fill="#000"/>
<g transform="translate(1218.17,328) rotate(-45)" font-size="14.8"><text x="0.21" y="5.33">0</text><text transform="translate(-0.29,0.8) scale(1.3,1.45)" x="0" y="4.87" text-anchor="end">&lt;</text></g>
<rect x="1234.35" y="309.60" width="2.7" height="10.2" fill="#000"/>
<g transform="translate(1240.70,328) rotate(-45)" font-size="14.8"><text x="-5.97" y="5.33">0.1</text><text transform="translate(-6.47,0.8) scale(1.3,1.45)" x="0" y="4.87" text-anchor="end">&lt;</text></g>
<rect x="1256.88" y="309.60" width="2.7" height="10.2" fill="#000"/>
<g transform="translate(1263.23,328) rotate(-45)" font-size="14.8"><text x="-5.97" y="5.33">0.2</text><text transform="translate(-6.47,0.8) scale(1.3,1.45)" x="0" y="4.87" text-anchor="end">&lt;</text></g>
<rect x="1279.41" y="309.60" width="2.7" height="10.2" fill="#000"/>
<g transform="translate(1285.76,328) rotate(-45)" font-size="14.8"><text x="-5.97" y="5.33">0.3</text><text transform="translate(-6.47,0.8) scale(1.3,1.45)" x="0" y="4.87" text-anchor="end">&lt;</text></g>
<rect x="1301.94" y="309.60" width="2.7" height="10.2" fill="#000"/>
<g transform="translate(1308.29,328) rotate(-45)" font-size="14.8"><text x="-5.97" y="5.33">0.4</text><text transform="translate(-6.47,0.8) scale(1.3,1.45)" x="0" y="4.87" text-anchor="end">&lt;</text></g>
<rect x="1324.47" y="309.60" width="2.7" height="10.2" fill="#000"/>
<g transform="translate(1330.82,328) rotate(-45)" font-size="14.8"><text x="-5.97" y="5.33">0.5</text><text transform="translate(-6.47,0.8) scale(1.3,1.45)" x="0" y="4.87" text-anchor="end">&lt;</text></g>
<rect x="1347.00" y="309.60" width="2.7" height="10.2" fill="#000"/>
<g transform="translate(1353.35,328) rotate(-45)" font-size="14.8"><text x="-5.97" y="5.33">0.6</text><text transform="translate(-6.47,0.8) scale(1.3,1.45)" x="0" y="4.87" text-anchor="end">&lt;</text></g>
<rect x="1369.53" y="309.60" width="2.7" height="10.2" fill="#000"/>
<g transform="translate(1375.88,328) rotate(-45)" font-size="14.8"><text x="-5.97" y="5.33">0.7</text><text transform="translate(-6.47,0.8) scale(1.3,1.45)" x="0" y="4.87" text-anchor="end">&lt;</text></g>
<rect x="1392.06" y="309.60" width="2.7" height="10.2" fill="#000"/>
<g transform="translate(1398.41,328) rotate(-45)" font-size="14.8"><text x="-5.97" y="5.33">0.8</text><text transform="translate(-6.47,0.8) scale(1.3,1.45)" x="0" y="4.87" text-anchor="end">&lt;</text></g>
<rect x="1414.59" y="309.60" width="2.7" height="10.2" fill="#000"/>
<g transform="translate(1420.94,328) rotate(-45)" font-size="14.8"><text x="-5.97" y="5.33">0.9</text><text transform="translate(-6.47,0.8) scale(1.3,1.45)" x="0" y="4.87" text-anchor="end">&lt;</text></g>
<rect x="1437.12" y="309.60" width="2.7" height="10.2" fill="#000"/>
<g transform="translate(1443.47,328) rotate(-45)" font-size="14.8"><text x="0.21" y="5.33">1</text><text transform="translate(-0.29,0.8) scale(1.3,1.45)" x="0" y="4.87" text-anchor="end">&lt;</text></g>
<rect x="1459.65" y="309.60" width="2.7" height="10.2" fill="#000"/>
<g transform="translate(1466.00,328) rotate(-45)" font-size="14.8"><text x="-5.97" y="5.33">1.1</text><text transform="translate(-6.47,0.8) scale(1.3,1.45)" x="0" y="4.87" text-anchor="end">&lt;</text></g>
<rect x="1482.18" y="309.60" width="2.7" height="10.2" fill="#000"/>
<g transform="translate(1488.53,328) rotate(-45)" font-size="14.8"><text x="-5.97" y="5.33">1.2</text><text transform="translate(-6.47,0.8) scale(1.3,1.45)" x="0" y="4.87" text-anchor="end">&lt;</text></g>
<rect x="1504.71" y="309.60" width="2.7" height="10.2" fill="#000"/>
<text transform="translate(1508.36,325.6) rotate(-45) scale(1.0,1.6)" font-family="'DejaVu Sans', 'Liberation Sans', sans-serif" font-weight="200" stroke="#0a0a0a" stroke-width="0.35" font-size="19" text-anchor="middle" y="5.96">~</text>
<rect x="1527.24" y="309.60" width="2.7" height="10.2" fill="#000"/>
<g transform="translate(1533.59,328) rotate(-45)" font-size="14.8"><text x="-5.97" y="5.33">3.9</text><text transform="translate(-6.47,0.8) scale(1.3,1.45)" x="0" y="4.87" text-anchor="end">&lt;</text></g>
<text transform="translate(1326.10,362.7) scale(0.915,1)" font-size="20.8" text-anchor="middle">Dec<tspan dy="-8.74" font-size="12.90">-1</tspan><tspan dy="8.74">​</tspan>-Feb<tspan dy="-8.74" font-size="12.90">0</tspan><tspan dy="8.74">​</tspan> Niño3.4 index (<tspan dy="-8.74" font-size="12.90">o</tspan><tspan dy="8.74">​</tspan>C)</text>
<text transform="translate(1056.80,168.0) rotate(-90) scale(0.99,1)" font-size="20.3" text-anchor="middle">Relative percentage (%)</text>
<rect x="1121.30" y="253" width="97.6" height="45" fill="#fff" stroke="#222" stroke-width="1"/>
<rect x="1125.30" y="257" width="15.2" height="16.8" fill="#121413"/>
<rect x="1125.80" y="278" width="14.2" height="15.4" fill="#474ca9" stroke="#333" stroke-width="1"/>
<text x="1144.00" y="269.2" font-size="13.2" font-weight="bold">Single-year</text>
<text x="1144.00" y="289.6" font-size="13.2" font-weight="bold" fill="#474ca9">Multi-year</text>
</g>
<g>
<text x="1629.5" y="17.8" font-size="21.6" xml:space="preserve" style="white-space:pre"><tspan font-weight="bold">d</tspan><tspan dx="0.7">  La Niña, CESM1</tspan></text>
<rect x="1633.50" y="26.40" width="427.74" height="283.20" fill="#121413"/>
<rect x="1634.40" y="93.15" width="20.50" height="216.45" fill="#474ca9"/>
<rect x="1656.93" y="93.15" width="20.50" height="216.45" fill="#474ca9"/>
<rect x="1679.46" y="93.15" width="20.50" height="216.45" fill="#474ca9"/>
<rect x="1701.99" y="94.40" width="20.50" height="215.20" fill="#474ca9"/>
<rect x="1724.52" y="95.65" width="20.50" height="213.95" fill="#474ca9"/>
<rect x="1747.05" y="98.15" width="20.50" height="211.45" fill="#474ca9"/>
<rect x="1769.58" y="101.65" width="20.50" height="207.95" fill="#474ca9"/>
<rect x="1792.11" y="105.40" width="20.50" height="204.20" fill="#474ca9"/>
<rect x="1814.64" y="111.15" width="20.50" height="198.45" fill="#474ca9"/>
<rect x="1837.17" y="118.40" width="20.50" height="191.20" fill="#474ca9"/>
<rect x="1859.70" y="125.15" width="20.50" height="184.45" fill="#474ca9"/>
<rect x="1882.23" y="140.40" width="20.50" height="169.20" fill="#474ca9"/>
<rect x="1904.76" y="153.15" width="20.50" height="156.45" fill="#474ca9"/>
<rect x="1927.29" y="167.15" width="20.50" height="142.45" fill="#474ca9"/>
<rect x="1949.82" y="174.40" width="20.50" height="135.20" fill="#474ca9"/>
<rect x="1972.35" y="200.40" width="20.50" height="109.20" fill="#474ca9"/>
<rect x="1994.88" y="234.90" width="20.50" height="74.70" fill="#474ca9"/>
<rect x="2017.41" y="258.65" width="20.50" height="50.95" fill="#474ca9"/>
<rect x="2039.94" y="274.90" width="20.50" height="34.70" fill="#474ca9"/>
<rect x="1631.60" y="165.7" width="435.20" height="4.35" rx="1.5" fill="#963cb8"/>
<clipPath id="cp3"><rect x="1633.50" y="26.40" width="427.74" height="283.20"/></clipPath>
<g clip-path="url(#cp3)">
<rect x="1633.38" y="91.73" width="22.53" height="216.85" fill="none" stroke="#121413" stroke-width="2.03"/>
<rect x="1655.91" y="91.73" width="22.53" height="216.85" fill="none" stroke="#121413" stroke-width="2.03"/>
<rect x="1678.44" y="91.73" width="22.53" height="216.85" fill="none" stroke="#121413" stroke-width="2.03"/>
<rect x="1700.97" y="92.98" width="22.53" height="215.60" fill="none" stroke="#121413" stroke-width="2.03"/>
<rect x="1723.50" y="94.23" width="22.53" height="214.35" fill="none" stroke="#121413" stroke-width="2.03"/>
<rect x="1746.04" y="96.73" width="22.53" height="211.85" fill="none" stroke="#121413" stroke-width="2.03"/>
<rect x="1768.57" y="100.23" width="22.53" height="208.35" fill="none" stroke="#121413" stroke-width="2.03"/>
<rect x="1791.10" y="103.98" width="22.53" height="204.60" fill="none" stroke="#121413" stroke-width="2.03"/>
<rect x="1813.62" y="109.73" width="22.53" height="198.85" fill="none" stroke="#121413" stroke-width="2.03"/>
<rect x="1836.15" y="116.98" width="22.53" height="191.60" fill="none" stroke="#121413" stroke-width="2.03"/>
<rect x="1858.68" y="123.73" width="22.53" height="184.85" fill="none" stroke="#121413" stroke-width="2.03"/>
<rect x="1881.21" y="138.99" width="22.53" height="169.60" fill="none" stroke="#121413" stroke-width="2.03"/>
<rect x="1903.75" y="151.74" width="22.53" height="156.85" fill="none" stroke="#121413" stroke-width="2.03"/>
<rect x="1926.27" y="165.74" width="22.53" height="142.85" fill="none" stroke="#121413" stroke-width="2.03"/>
</g>
<rect x="1621.00" y="24.90" width="445.00" height="3" fill="#000"/>
<rect x="1621.00" y="308.30" width="445.00" height="2.7" fill="#000"/>
<rect x="1629.30" y="26.40" width="2.3" height="283.20" fill="#000"/>
<rect x="2063.60" y="26.40" width="2.3" height="283.20" fill="#000"/>
<text x="1611.40" y="314.50" font-size="14.5" text-anchor="end">0</text>
<rect x="1625.40" y="294.64" width="5.0" height="1.6" fill="#000"/>
<rect x="1625.40" y="280.48" width="5.0" height="1.6" fill="#000"/>
<rect x="1625.40" y="266.32" width="5.0" height="1.6" fill="#000"/>
<rect x="1621.00" y="251.66" width="9.4" height="2.6" fill="#000"/>
<text x="1611.40" y="257.86" font-size="14.5" text-anchor="end">20</text>
<rect x="1625.40" y="238.00" width="5.0" height="1.6" fill="#000"/>
<rect x="1625.40" y="223.84" width="5.0" height="1.6" fill="#000"/>
<rect x="1625.40" y="209.68" width="5.0" height="1.6" fill="#000"/>
<rect x="1621.00" y="195.02" width="9.4" height="2.6" fill="#000"/>
<text x="1611.40" y="201.22" font-size="14.5" text-anchor="end">40</text>
<rect x="1625.40" y="181.36" width="5.0" height="1.6" fill="#000"/>
<rect x="1625.40" y="167.20" width="5.0" height="1.6" fill="#000"/>
<rect x="1625.40" y="153.04" width="5.0" height="1.6" fill="#000"/>
<rect x="1621.00" y="138.38" width="9.4" height="2.6" fill="#000"/>
<text x="1611.40" y="144.58" font-size="14.5" text-anchor="end">60</text>
<rect x="1625.40" y="124.72" width="5.0" height="1.6" fill="#000"/>
<rect x="1625.40" y="110.56" width="5.0" height="1.6" fill="#000"/>
<rect x="1625.40" y="96.40" width="5.0" height="1.6" fill="#000"/>
<rect x="1621.00" y="81.74" width="9.4" height="2.6" fill="#000"/>
<text x="1611.40" y="87.94" font-size="14.5" text-anchor="end">80</text>
<rect x="1625.40" y="68.08" width="5.0" height="1.6" fill="#000"/>
<rect x="1625.40" y="53.92" width="5.0" height="1.6" fill="#000"/>
<rect x="1625.40" y="39.76" width="5.0" height="1.6" fill="#000"/>
<text x="1611.40" y="31.30" font-size="14.5" text-anchor="end">100</text>
<rect x="1643.30" y="309.60" width="2.7" height="10.2" fill="#000"/>
<g transform="translate(1649.65,328) rotate(-45)" font-size="14.8"><text x="-2.26" y="5.33">-1</text><text transform="translate(-2.76,0.8) scale(1.3,1.45)" x="0" y="4.87" text-anchor="end">&gt;</text></g>
<rect x="1665.83" y="309.60" width="2.7" height="10.2" fill="#000"/>
<g transform="translate(1672.18,328) rotate(-45)" font-size="14.8"><text x="-8.43" y="5.33">-0.9</text><text transform="translate(-8.93,0.8) scale(1.3,1.45)" x="0" y="4.87" text-anchor="end">&gt;</text></g>
<rect x="1688.36" y="309.60" width="2.7" height="10.2" fill="#000"/>
<g transform="translate(1694.71,328) rotate(-45)" font-size="14.8"><text x="-8.43" y="5.33">-0.8</text><text transform="translate(-8.93,0.8) scale(1.3,1.45)" x="0" y="4.87" text-anchor="end">&gt;</text></g>
<rect x="1710.89" y="309.60" width="2.7" height="10.2" fill="#000"/>
<g transform="translate(1717.24,328) rotate(-45)" font-size="14.8"><text x="-8.43" y="5.33">-0.7</text><text transform="translate(-8.93,0.8) scale(1.3,1.45)" x="0" y="4.87" text-anchor="end">&gt;</text></g>
<rect x="1733.42" y="309.60" width="2.7" height="10.2" fill="#000"/>
<g transform="translate(1739.77,328) rotate(-45)" font-size="14.8"><text x="-8.43" y="5.33">-0.6</text><text transform="translate(-8.93,0.8) scale(1.3,1.45)" x="0" y="4.87" text-anchor="end">&gt;</text></g>
<rect x="1755.95" y="309.60" width="2.7" height="10.2" fill="#000"/>
<g transform="translate(1762.30,328) rotate(-45)" font-size="14.8"><text x="-8.43" y="5.33">-0.5</text><text transform="translate(-8.93,0.8) scale(1.3,1.45)" x="0" y="4.87" text-anchor="end">&gt;</text></g>
<rect x="1778.48" y="309.60" width="2.7" height="10.2" fill="#000"/>
<g transform="translate(1784.83,328) rotate(-45)" font-size="14.8"><text x="-8.43" y="5.33">-0.4</text><text transform="translate(-8.93,0.8) scale(1.3,1.45)" x="0" y="4.87" text-anchor="end">&gt;</text></g>
<rect x="1801.01" y="309.60" width="2.7" height="10.2" fill="#000"/>
<g transform="translate(1807.36,328) rotate(-45)" font-size="14.8"><text x="-8.43" y="5.33">-0.3</text><text transform="translate(-8.93,0.8) scale(1.3,1.45)" x="0" y="4.87" text-anchor="end">&gt;</text></g>
<rect x="1823.54" y="309.60" width="2.7" height="10.2" fill="#000"/>
<g transform="translate(1829.89,328) rotate(-45)" font-size="14.8"><text x="-8.43" y="5.33">-0.2</text><text transform="translate(-8.93,0.8) scale(1.3,1.45)" x="0" y="4.87" text-anchor="end">&gt;</text></g>
<rect x="1846.07" y="309.60" width="2.7" height="10.2" fill="#000"/>
<g transform="translate(1852.42,328) rotate(-45)" font-size="14.8"><text x="-8.43" y="5.33">-0.1</text><text transform="translate(-8.93,0.8) scale(1.3,1.45)" x="0" y="4.87" text-anchor="end">&gt;</text></g>
<rect x="1868.60" y="309.60" width="2.7" height="10.2" fill="#000"/>
<g transform="translate(1874.95,328) rotate(-45)" font-size="14.8"><text x="0.21" y="5.33">0</text><text transform="translate(-0.29,0.8) scale(1.3,1.45)" x="0" y="4.87" text-anchor="end">&gt;</text></g>
<rect x="1891.13" y="309.60" width="2.7" height="10.2" fill="#000"/>
<g transform="translate(1897.48,328) rotate(-45)" font-size="14.8"><text x="-5.97" y="5.33">0.1</text><text transform="translate(-6.47,0.8) scale(1.3,1.45)" x="0" y="4.87" text-anchor="end">&gt;</text></g>
<rect x="1913.66" y="309.60" width="2.7" height="10.2" fill="#000"/>
<g transform="translate(1920.01,328) rotate(-45)" font-size="14.8"><text x="-5.97" y="5.33">0.2</text><text transform="translate(-6.47,0.8) scale(1.3,1.45)" x="0" y="4.87" text-anchor="end">&gt;</text></g>
<rect x="1936.19" y="309.60" width="2.7" height="10.2" fill="#000"/>
<g transform="translate(1942.54,328) rotate(-45)" font-size="14.8"><text x="-5.97" y="5.33">0.3</text><text transform="translate(-6.47,0.8) scale(1.3,1.45)" x="0" y="4.87" text-anchor="end">&gt;</text></g>
<rect x="1958.72" y="309.60" width="2.7" height="10.2" fill="#000"/>
<g transform="translate(1965.07,328) rotate(-45)" font-size="14.8"><text x="-5.97" y="5.33">0.4</text><text transform="translate(-6.47,0.8) scale(1.3,1.45)" x="0" y="4.87" text-anchor="end">&gt;</text></g>
<rect x="1981.25" y="309.60" width="2.7" height="10.2" fill="#000"/>
<g transform="translate(1987.60,328) rotate(-45)" font-size="14.8"><text x="-5.97" y="5.33">0.5</text><text transform="translate(-6.47,0.8) scale(1.3,1.45)" x="0" y="4.87" text-anchor="end">&gt;</text></g>
<rect x="2003.78" y="309.60" width="2.7" height="10.2" fill="#000"/>
<g transform="translate(2010.13,328) rotate(-45)" font-size="14.8"><text x="-5.97" y="5.33">0.6</text><text transform="translate(-6.47,0.8) scale(1.3,1.45)" x="0" y="4.87" text-anchor="end">&gt;</text></g>
<rect x="2026.31" y="309.60" width="2.7" height="10.2" fill="#000"/>
<g transform="translate(2032.66,328) rotate(-45)" font-size="14.8"><text x="-5.97" y="5.33">0.7</text><text transform="translate(-6.47,0.8) scale(1.3,1.45)" x="0" y="4.87" text-anchor="end">&gt;</text></g>
<rect x="2048.84" y="309.60" width="2.7" height="10.2" fill="#000"/>
<g transform="translate(2055.19,328) rotate(-45)" font-size="14.8"><text x="-5.97" y="5.33">0.8</text><text transform="translate(-6.47,0.8) scale(1.3,1.45)" x="0" y="4.87" text-anchor="end">&gt;</text></g>
<text transform="translate(1847.70,362.7) scale(0.915,1)" font-size="20.8" text-anchor="middle">Dec<tspan dy="-8.74" font-size="12.90">0</tspan><tspan dy="8.74">​</tspan>-Feb<tspan dy="-8.74" font-size="12.90">1</tspan><tspan dy="8.74">​</tspan> ZL index<tspan font-size="1.3em" dy="0.05em" font-weight="normal" font-family="'Liberation Serif', 'DejaVu Serif', serif">×</tspan><tspan dy="-0.065em">​</tspan>(<tspan font-size="1.5em" dy="0.07em" font-weight="normal" font-family="'Liberation Serif', 'DejaVu Serif', serif">−</tspan><tspan dy="-0.105em">​</tspan>1) (<tspan dy="-8.74" font-size="12.90">o</tspan><tspan dy="8.74">​</tspan>C)</text>
<text transform="translate(1578.40,168.0) rotate(-90) scale(0.99,1)" font-size="20.3" text-anchor="middle">Relative percentage (%)</text>
<rect x="1642.90" y="253" width="97.6" height="45" fill="#fff" stroke="#222" stroke-width="1"/>
<rect x="1646.90" y="257" width="15.2" height="16.8" fill="#121413"/>
<rect x="1647.40" y="278" width="14.2" height="15.4" fill="#474ca9" stroke="#333" stroke-width="1"/>
<text x="1665.60" y="269.2" font-size="13.2" font-weight="bold">Single-year</text>
<text x="1665.60" y="289.6" font-size="13.2" font-weight="bold" fill="#474ca9">Multi-year</text>
</g>
<g>
<text x="77.9" y="402.5" font-size="24.3" xml:space="preserve" style="white-space:pre"><tspan font-weight="bold">e</tspan>  El Niño, CESM1</text>
<rect x="78.10" y="413.20" width="409.50" height="364.05" fill="#f8f8fa"/>
<rect x="78.10" y="540.59" width="199.45" height="236.66" fill="#fff"/>
<rect x="57.50" y="530.39" width="36.8" height="21.2" fill="#74c400"/>
<text x="76.50" y="545.59" font-size="13" font-weight="bold" fill="#fff" text-anchor="middle">1.45</text>
<rect x="258.25" y="767.25" width="37" height="20.6" fill="#74c400"/>
<text x="278.15" y="782.65" font-size="13.4" font-weight="bold" fill="#fff" text-anchor="middle">1.15</text>
<line x1="171.25" y1="413.20" x2="171.25" y2="777.25" stroke="#5a5a5a" stroke-width="1" stroke-dasharray="6.6 3.4"/>
<line x1="264.25" y1="413.20" x2="264.25" y2="777.25" stroke="#5a5a5a" stroke-width="1" stroke-dasharray="6.6 3.4"/>
<line x1="357.25" y1="413.20" x2="357.25" y2="777.25" stroke="#5a5a5a" stroke-width="1" stroke-dasharray="6.6 3.4"/>
<line x1="450.25" y1="413.20" x2="450.25" y2="777.25" stroke="#5a5a5a" stroke-width="1" stroke-dasharray="6.6 3.4"/>
<line x1="78.10" y1="716.55" x2="487.60" y2="716.55" stroke="#5a5a5a" stroke-width="1" stroke-dasharray="6.6 3.4"/>
<line x1="78.10" y1="655.88" x2="487.60" y2="655.88" stroke="#5a5a5a" stroke-width="1" stroke-dasharray="6.6 3.4"/>
<line x1="78.10" y1="595.20" x2="487.60" y2="595.20" stroke="#5a5a5a" stroke-width="1" stroke-dasharray="6.6 3.4"/>
<line x1="78.10" y1="534.52" x2="487.60" y2="534.52" stroke="#5a5a5a" stroke-width="1" stroke-dasharray="6.6 3.4"/>
<line x1="78.10" y1="473.85" x2="487.60" y2="473.85" stroke="#5a5a5a" stroke-width="1" stroke-dasharray="6.6 3.4"/>
<line x1="277.55" y1="413.20" x2="277.55" y2="540.59" stroke="#74c400" stroke-width="1.4"/>
<line x1="277.55" y1="540.59" x2="487.60" y2="540.59" stroke="#b6e28c" stroke-width="1.6"/>
<line x1="78.10" y1="540.59" x2="278.85" y2="540.59" stroke="#74c400" stroke-width="2.6"/>
<line x1="277.55" y1="540.59" x2="277.55" y2="777.25" stroke="#74c400" stroke-width="2.6"/>
<circle cx="328.6" cy="511.4" r="3.5" fill="#121413"/>
<circle cx="336.8" cy="524.5" r="3.5" fill="#121413"/>
<circle cx="294.7" cy="532.1" r="3.5" fill="#121413"/>
<circle cx="300.4" cy="536.5" r="3.5" fill="#121413"/>
<circle cx="312.9" cy="539.0" r="3.5" fill="#121413"/>
<circle cx="337.4" cy="549.0" r="3.5" fill="#121413"/>
<circle cx="297.2" cy="561.3" r="3.5" fill="#121413"/>
<circle cx="313.3" cy="572.9" r="3.5" fill="#121413"/>
<circle cx="279.7" cy="583.6" r="3.5" fill="#121413"/>
<circle cx="268.7" cy="531.4" r="3.5" fill="#121413"/>
<circle cx="274.0" cy="538.4" r="3.5" fill="#121413"/>
<circle cx="269.6" cy="540.9" r="3.5" fill="#121413"/>
<circle cx="274.0" cy="543.4" r="3.5" fill="#121413"/>
<circle cx="213.7" cy="523.7" r="3.5" fill="#121413"/>
<circle cx="206.6" cy="525.4" r="3.5" fill="#121413"/>
<circle cx="202.8" cy="538.4" r="3.5" fill="#121413"/>
<circle cx="215.0" cy="540.9" r="3.5" fill="#121413"/>
<circle cx="219.4" cy="544.0" r="3.5" fill="#121413"/>
<circle cx="184.5" cy="545.3" r="3.5" fill="#121413"/>
<circle cx="224.4" cy="551.5" r="3.5" fill="#121413"/>
<circle cx="186.5" cy="555.3" r="3.5" fill="#121413"/>
<circle cx="252.7" cy="550.3" r="3.5" fill="#121413"/>
<circle cx="253.9" cy="554.3" r="3.5" fill="#121413"/>
<circle cx="239.5" cy="556.3" r="3.5" fill="#121413"/>
<circle cx="246.4" cy="560.1" r="3.5" fill="#121413"/>
<circle cx="256.7" cy="562.6" r="3.5" fill="#121413"/>
<circle cx="265.6" cy="565.4" r="3.5" fill="#121413"/>
<circle cx="190.5" cy="568.9" r="3.5" fill="#121413"/>
<circle cx="201.2" cy="568.1" r="3.5" fill="#121413"/>
<circle cx="196.1" cy="571.6" r="3.5" fill="#121413"/>
<circle cx="198.0" cy="573.5" r="3.5" fill="#121413"/>
<circle cx="182.9" cy="572.9" r="3.5" fill="#121413"/>
<circle cx="217.7" cy="572.9" r="3.5" fill="#121413"/>
<circle cx="226.3" cy="572.3" r="3.5" fill="#121413"/>
<circle cx="245.7" cy="572.0" r="3.5" fill="#121413"/>
<circle cx="240.5" cy="578.6" r="3.5" fill="#121413"/>
<circle cx="256.7" cy="585.2" r="3.5" fill="#121413"/>
<circle cx="161.8" cy="581.1" r="3.5" fill="#121413"/>
<circle cx="159.1" cy="587.3" r="3.5" fill="#121413"/>
<circle cx="176.0" cy="582.1" r="3.5" fill="#121413"/>
<circle cx="159.3" cy="587.5" r="3.5" fill="#121413"/>
<circle cx="156.6" cy="598.8" r="3.5" fill="#121413"/>
<circle cx="171.6" cy="598.2" r="3.5" fill="#121413"/>
<circle cx="176.7" cy="598.2" r="3.5" fill="#121413"/>
<circle cx="172.9" cy="602.6" r="3.5" fill="#121413"/>
<circle cx="181.7" cy="591.9" r="3.5" fill="#121413"/>
<circle cx="185.5" cy="601.3" r="3.5" fill="#121413"/>
<circle cx="191.1" cy="604.5" r="3.5" fill="#121413"/>
<circle cx="197.4" cy="607.6" r="3.5" fill="#121413"/>
<circle cx="198.6" cy="610.7" r="3.5" fill="#121413"/>
<circle cx="188.3" cy="611.1" r="3.5" fill="#121413"/>
<circle cx="213.5" cy="594.4" r="3.5" fill="#121413"/>
<circle cx="218.7" cy="598.2" r="3.5" fill="#121413"/>
<circle cx="223.8" cy="596.9" r="3.5" fill="#121413"/>
<circle cx="238.5" cy="599.4" r="3.5" fill="#121413"/>
<circle cx="221.9" cy="609.5" r="3.5" fill="#121413"/>
<circle cx="225.7" cy="613.9" r="3.5" fill="#121413"/>
<circle cx="217.9" cy="615.5" r="3.5" fill="#121413"/>
<circle cx="208.7" cy="616.7" r="3.5" fill="#121413"/>
<circle cx="279.7" cy="606.1" r="3.5" fill="#121413"/>
<circle cx="293.9" cy="608.9" r="3.5" fill="#121413"/>
<circle cx="290.6" cy="615.1" r="3.5" fill="#121413"/>
<circle cx="153.7" cy="614.5" r="3.5" fill="#121413"/>
<circle cx="157.8" cy="620.2" r="3.5" fill="#121413"/>
<circle cx="175.4" cy="621.4" r="3.5" fill="#121413"/>
<circle cx="184.2" cy="620.8" r="3.5" fill="#121413"/>
<circle cx="176.7" cy="627.1" r="3.5" fill="#121413"/>
<circle cx="194.3" cy="623.9" r="3.5" fill="#121413"/>
<circle cx="198.0" cy="618.9" r="3.5" fill="#121413"/>
<circle cx="201.8" cy="626.4" r="3.5" fill="#121413"/>
<circle cx="204.9" cy="630.2" r="3.5" fill="#121413"/>
<circle cx="184.8" cy="630.2" r="3.5" fill="#121413"/>
<circle cx="180.2" cy="635.9" r="3.5" fill="#121413"/>
<circle cx="198.0" cy="634.0" r="3.5" fill="#121413"/>
<circle cx="249.5" cy="631.9" r="3.5" fill="#121413"/>
<circle cx="157.2" cy="637.8" r="3.5" fill="#121413"/>
<circle cx="164.1" cy="640.3" r="3.5" fill="#121413"/>
<circle cx="132.7" cy="641.8" r="3.5" fill="#121413"/>
<circle cx="216.2" cy="643.0" r="3.5" fill="#121413"/>
<circle cx="220.0" cy="642.5" r="3.5" fill="#121413"/>
<circle cx="227.5" cy="650.3" r="3.5" fill="#121413"/>
<circle cx="190.2" cy="647.2" r="3.5" fill="#121413"/>
<circle cx="168.9" cy="651.6" r="3.5" fill="#121413"/>
<circle cx="163.5" cy="656.8" r="3.5" fill="#121413"/>
<circle cx="196.8" cy="654.7" r="3.5" fill="#121413"/>
<circle cx="175.4" cy="661.0" r="3.5" fill="#121413"/>
<circle cx="154.7" cy="665.4" r="3.5" fill="#121413"/>
<circle cx="205.6" cy="661.6" r="3.5" fill="#121413"/>
<circle cx="213.7" cy="662.2" r="3.5" fill="#121413"/>
<circle cx="210.6" cy="666.6" r="3.5" fill="#121413"/>
<circle cx="199.3" cy="665.4" r="3.5" fill="#121413"/>
<circle cx="191.1" cy="666.0" r="3.5" fill="#121413"/>
<circle cx="193.0" cy="670.4" r="3.5" fill="#121413"/>
<circle cx="200.5" cy="674.2" r="3.5" fill="#121413"/>
<circle cx="174.2" cy="671.7" r="3.5" fill="#121413"/>
<circle cx="179.2" cy="672.3" r="3.5" fill="#121413"/>
<circle cx="172.3" cy="676.1" r="3.5" fill="#121413"/>
<circle cx="206.8" cy="679.2" r="3.5" fill="#121413"/>
<circle cx="208.1" cy="681.7" r="3.5" fill="#121413"/>
<circle cx="204.3" cy="682.3" r="3.5" fill="#121413"/>
<circle cx="188.0" cy="682.3" r="3.5" fill="#121413"/>
<circle cx="204.3" cy="686.7" r="3.5" fill="#121413"/>
<circle cx="142.8" cy="679.2" r="3.5" fill="#121413"/>
<circle cx="171.4" cy="695.1" r="3.5" fill="#121413"/>
<circle cx="180.4" cy="695.7" r="3.5" fill="#121413"/>
<circle cx="182.3" cy="700.1" r="3.5" fill="#121413"/>
<circle cx="198.0" cy="699.1" r="3.5" fill="#121413"/>
<circle cx="211.6" cy="694.1" r="3.5" fill="#121413"/>
<circle cx="206.8" cy="697.0" r="3.5" fill="#121413"/>
<circle cx="201.2" cy="710.5" r="3.5" fill="#121413"/>
<circle cx="475" cy="453.75" r="3.5" fill="#121413"/>
<circle cx="353.75" cy="495.5" r="3.5" fill="#121413"/>
<circle cx="383.75" cy="505.75" r="3.5" fill="#121413"/>
<circle cx="375" cy="517.5" r="3.5" fill="#121413"/>
<circle cx="370" cy="555" r="3.5" fill="#121413"/>
<circle cx="242.5" cy="475.75" r="3.5" fill="#121413"/>
<circle cx="212.8" cy="506.6" r="3.5" fill="#dc2c1b"/>
<circle cx="280.9" cy="520.1" r="3.5" fill="#dc2c1b"/>
<circle cx="206.2" cy="561.6" r="3.5" fill="#dc2c1b"/>
<circle cx="239.5" cy="565.4" r="3.5" fill="#dc2c1b"/>
<circle cx="226.5" cy="575.7" r="3.5" fill="#dc2c1b"/>
<circle cx="268.4" cy="575.7" r="3.5" fill="#dc2c1b"/>
<circle cx="201.4" cy="580.4" r="3.5" fill="#dc2c1b"/>
<circle cx="214.3" cy="581.3" r="3.5" fill="#dc2c1b"/>
<circle cx="190.5" cy="584.8" r="3.5" fill="#dc2c1b"/>
<circle cx="190.5" cy="585.6" r="3.5" fill="#dc2c1b"/>
<circle cx="199.3" cy="590.3" r="3.5" fill="#dc2c1b"/>
<circle cx="183.2" cy="593.5" r="3.5" fill="#dc2c1b"/>
<circle cx="195.9" cy="598.2" r="3.5" fill="#dc2c1b"/>
<circle cx="213.1" cy="610.1" r="3.5" fill="#dc2c1b"/>
<circle cx="204.9" cy="612.0" r="3.5" fill="#dc2c1b"/>
<circle cx="206.2" cy="614.5" r="3.5" fill="#dc2c1b"/>
<circle cx="138.1" cy="614.5" r="3.5" fill="#dc2c1b"/>
<circle cx="138.4" cy="617.9" r="3.5" fill="#dc2c1b"/>
<circle cx="140.9" cy="622.3" r="3.5" fill="#dc2c1b"/>
<circle cx="170.4" cy="612.9" r="3.5" fill="#dc2c1b"/>
<circle cx="174.8" cy="615.8" r="3.5" fill="#dc2c1b"/>
<circle cx="177.9" cy="618.9" r="3.5" fill="#dc2c1b"/>
<circle cx="194.6" cy="616.4" r="3.5" fill="#dc2c1b"/>
<circle cx="202.4" cy="620.2" r="3.5" fill="#dc2c1b"/>
<circle cx="156.8" cy="619.9" r="3.5" fill="#dc2c1b"/>
<circle cx="165.7" cy="624.6" r="3.5" fill="#dc2c1b"/>
<circle cx="187.3" cy="624.6" r="3.5" fill="#dc2c1b"/>
<circle cx="218.5" cy="626.4" r="3.5" fill="#dc2c1b"/>
<circle cx="210.0" cy="629.2" r="3.5" fill="#dc2c1b"/>
<circle cx="139.0" cy="630.2" r="3.5" fill="#dc2c1b"/>
<circle cx="190.5" cy="630.8" r="3.5" fill="#dc2c1b"/>
<circle cx="186.7" cy="634.6" r="3.5" fill="#dc2c1b"/>
<circle cx="200.5" cy="634.0" r="3.5" fill="#dc2c1b"/>
<circle cx="244.2" cy="631.5" r="3.5" fill="#dc2c1b"/>
<circle cx="152.2" cy="633.4" r="3.5" fill="#dc2c1b"/>
<circle cx="150.9" cy="636.5" r="3.5" fill="#dc2c1b"/>
<circle cx="162.2" cy="633.4" r="3.5" fill="#dc2c1b"/>
<circle cx="165.4" cy="634.6" r="3.5" fill="#dc2c1b"/>
<circle cx="168.5" cy="635.9" r="3.5" fill="#dc2c1b"/>
<circle cx="173.5" cy="634.6" r="3.5" fill="#dc2c1b"/>
<circle cx="140.2" cy="637.1" r="3.5" fill="#dc2c1b"/>
<circle cx="141.5" cy="642.1" r="3.5" fill="#dc2c1b"/>
<circle cx="150.3" cy="640.9" r="3.5" fill="#dc2c1b"/>
<circle cx="168.5" cy="641.5" r="3.5" fill="#dc2c1b"/>
<circle cx="215.0" cy="636.7" r="3.5" fill="#dc2c1b"/>
<circle cx="195.5" cy="640.9" r="3.5" fill="#dc2c1b"/>
<circle cx="199.3" cy="643.0" r="3.5" fill="#dc2c1b"/>
<circle cx="179.8" cy="644.7" r="3.5" fill="#dc2c1b"/>
<circle cx="176.7" cy="647.8" r="3.5" fill="#dc2c1b"/>
<circle cx="140.9" cy="650.3" r="3.5" fill="#dc2c1b"/>
<circle cx="204.3" cy="650.3" r="3.5" fill="#dc2c1b"/>
<circle cx="190.2" cy="651.2" r="3.5" fill="#dc2c1b"/>
<circle cx="161.0" cy="652.2" r="3.5" fill="#dc2c1b"/>
<circle cx="177.3" cy="653.5" r="3.5" fill="#dc2c1b"/>
<circle cx="240.1" cy="653.1" r="3.5" fill="#dc2c1b"/>
<circle cx="125.2" cy="653.5" r="3.5" fill="#dc2c1b"/>
<circle cx="195.5" cy="656.6" r="3.5" fill="#dc2c1b"/>
<circle cx="194.3" cy="660.4" r="3.5" fill="#dc2c1b"/>
<circle cx="132.5" cy="660.4" r="3.5" fill="#dc2c1b"/>
<circle cx="122.7" cy="661.6" r="3.5" fill="#dc2c1b"/>
<circle cx="169.1" cy="661.0" r="3.5" fill="#dc2c1b"/>
<circle cx="180.4" cy="659.1" r="3.5" fill="#dc2c1b"/>
<circle cx="182.9" cy="661.0" r="3.5" fill="#dc2c1b"/>
<circle cx="159.1" cy="661.6" r="3.5" fill="#dc2c1b"/>
<circle cx="160.3" cy="665.4" r="3.5" fill="#dc2c1b"/>
<circle cx="166.6" cy="667.3" r="3.5" fill="#dc2c1b"/>
<circle cx="136.5" cy="671.0" r="3.5" fill="#dc2c1b"/>
<circle cx="159.1" cy="671.7" r="3.5" fill="#dc2c1b"/>
<circle cx="152.8" cy="674.4" r="3.5" fill="#dc2c1b"/>
<circle cx="156.6" cy="676.7" r="3.5" fill="#dc2c1b"/>
<circle cx="144.6" cy="676.7" r="3.5" fill="#dc2c1b"/>
<circle cx="176.7" cy="675.4" r="3.5" fill="#dc2c1b"/>
<circle cx="180.4" cy="675.4" r="3.5" fill="#dc2c1b"/>
<circle cx="190.5" cy="674.2" r="3.5" fill="#dc2c1b"/>
<circle cx="187.3" cy="677.9" r="3.5" fill="#dc2c1b"/>
<circle cx="194.3" cy="678.6" r="3.5" fill="#dc2c1b"/>
<circle cx="146.5" cy="681.7" r="3.5" fill="#dc2c1b"/>
<circle cx="155.3" cy="681.7" r="3.5" fill="#dc2c1b"/>
<circle cx="162.9" cy="681.7" r="3.5" fill="#dc2c1b"/>
<circle cx="176.7" cy="680.5" r="3.5" fill="#dc2c1b"/>
<circle cx="194.3" cy="683.0" r="3.5" fill="#dc2c1b"/>
<circle cx="152.8" cy="684.9" r="3.5" fill="#dc2c1b"/>
<circle cx="159.7" cy="685.5" r="3.5" fill="#dc2c1b"/>
<circle cx="177.3" cy="686.7" r="3.5" fill="#dc2c1b"/>
<circle cx="137.7" cy="690.7" r="3.5" fill="#dc2c1b"/>
<circle cx="141.5" cy="694.4" r="3.5" fill="#dc2c1b"/>
<circle cx="131.4" cy="696.3" r="3.5" fill="#dc2c1b"/>
<circle cx="158.5" cy="694.4" r="3.5" fill="#dc2c1b"/>
<circle cx="152.8" cy="697.0" r="3.5" fill="#dc2c1b"/>
<circle cx="171.6" cy="698.8" r="3.5" fill="#dc2c1b"/>
<circle cx="204.7" cy="692.3" r="3.5" fill="#dc2c1b"/>
<circle cx="218.1" cy="703.5" r="3.5" fill="#dc2c1b"/>
<circle cx="124.9" cy="705.7" r="3.5" fill="#dc2c1b"/>
<circle cx="144.0" cy="704.5" r="3.5" fill="#dc2c1b"/>
<circle cx="152.8" cy="703.9" r="3.5" fill="#dc2c1b"/>
<circle cx="149.0" cy="708.9" r="3.5" fill="#dc2c1b"/>
<circle cx="177.9" cy="703.6" r="3.5" fill="#dc2c1b"/>
<circle cx="182.9" cy="707.0" r="3.5" fill="#dc2c1b"/>
<circle cx="189.9" cy="706.4" r="3.5" fill="#dc2c1b"/>
<circle cx="189.9" cy="710.1" r="3.5" fill="#dc2c1b"/>
<circle cx="168.9" cy="714.5" r="3.5" fill="#dc2c1b"/>
<circle cx="181.9" cy="714.3" r="3.5" fill="#dc2c1b"/>
<circle cx="201.5" cy="716.8" r="3.5" fill="#dc2c1b"/>
<circle cx="156.6" cy="724.0" r="3.5" fill="#dc2c1b"/>
<circle cx="177.9" cy="687.5" r="3.5" fill="#dc2c1b"/>
<rect x="78.10" y="413.20" width="409.50" height="364.05" fill="none" stroke="#1a1a1a" stroke-width="1.2"/>
<line x1="78.10" y1="540.59" x2="78.10" y2="778.75" stroke="#000" stroke-width="2.4"/>
<line x1="78.10" y1="777.25" x2="277.55" y2="777.25" stroke="#000" stroke-width="2.4"/>
<line x1="96.85" y1="777.25" x2="96.85" y2="771.65" stroke="#000" stroke-width="1.5"/>
<line x1="96.85" y1="413.20" x2="96.85" y2="418.80" stroke="#777" stroke-width="1.0"/>
<line x1="115.45" y1="777.25" x2="115.45" y2="771.65" stroke="#000" stroke-width="1.5"/>
<line x1="115.45" y1="413.20" x2="115.45" y2="418.80" stroke="#777" stroke-width="1.0"/>
<line x1="134.05" y1="777.25" x2="134.05" y2="771.65" stroke="#000" stroke-width="1.5"/>
<line x1="134.05" y1="413.20" x2="134.05" y2="418.80" stroke="#777" stroke-width="1.0"/>
<line x1="152.65" y1="777.25" x2="152.65" y2="771.65" stroke="#000" stroke-width="1.5"/>
<line x1="152.65" y1="413.20" x2="152.65" y2="418.80" stroke="#777" stroke-width="1.0"/>
<line x1="171.25" y1="777.25" x2="171.25" y2="765.25" stroke="#000" stroke-width="2.4"/>
<line x1="171.25" y1="413.20" x2="171.25" y2="425.20" stroke="#444" stroke-width="1.2"/>
<line x1="189.85" y1="777.25" x2="189.85" y2="771.65" stroke="#000" stroke-width="1.5"/>
<line x1="189.85" y1="413.20" x2="189.85" y2="418.80" stroke="#777" stroke-width="1.0"/>
<line x1="208.45" y1="777.25" x2="208.45" y2="771.65" stroke="#000" stroke-width="1.5"/>
<line x1="208.45" y1="413.20" x2="208.45" y2="418.80" stroke="#777" stroke-width="1.0"/>
<line x1="227.05" y1="777.25" x2="227.05" y2="771.65" stroke="#000" stroke-width="1.5"/>
<line x1="227.05" y1="413.20" x2="227.05" y2="418.80" stroke="#777" stroke-width="1.0"/>
<line x1="245.65" y1="777.25" x2="245.65" y2="771.65" stroke="#000" stroke-width="1.5"/>
<line x1="245.65" y1="413.20" x2="245.65" y2="418.80" stroke="#777" stroke-width="1.0"/>
<line x1="264.25" y1="777.25" x2="264.25" y2="765.25" stroke="#000" stroke-width="2.4"/>
<line x1="264.25" y1="413.20" x2="264.25" y2="425.20" stroke="#444" stroke-width="1.2"/>
<line x1="282.85" y1="777.25" x2="282.85" y2="771.65" stroke="#777" stroke-width="1.0"/>
<line x1="282.85" y1="413.20" x2="282.85" y2="418.80" stroke="#777" stroke-width="1.0"/>
<line x1="301.45" y1="777.25" x2="301.45" y2="771.65" stroke="#777" stroke-width="1.0"/>
<line x1="301.45" y1="413.20" x2="301.45" y2="418.80" stroke="#777" stroke-width="1.0"/>
<line x1="320.05" y1="777.25" x2="320.05" y2="771.65" stroke="#777" stroke-width="1.0"/>
<line x1="320.05" y1="413.20" x2="320.05" y2="418.80" stroke="#777" stroke-width="1.0"/>
<line x1="338.65" y1="777.25" x2="338.65" y2="771.65" stroke="#777" stroke-width="1.0"/>
<line x1="338.65" y1="413.20" x2="338.65" y2="418.80" stroke="#777" stroke-width="1.0"/>
<line x1="357.25" y1="777.25" x2="357.25" y2="765.25" stroke="#444" stroke-width="1.2"/>
<line x1="357.25" y1="413.20" x2="357.25" y2="425.20" stroke="#444" stroke-width="1.2"/>
<line x1="375.85" y1="777.25" x2="375.85" y2="771.65" stroke="#777" stroke-width="1.0"/>
<line x1="375.85" y1="413.20" x2="375.85" y2="418.80" stroke="#777" stroke-width="1.0"/>
<line x1="394.45" y1="777.25" x2="394.45" y2="771.65" stroke="#777" stroke-width="1.0"/>
<line x1="394.45" y1="413.20" x2="394.45" y2="418.80" stroke="#777" stroke-width="1.0"/>
<line x1="413.05" y1="777.25" x2="413.05" y2="771.65" stroke="#777" stroke-width="1.0"/>
<line x1="413.05" y1="413.20" x2="413.05" y2="418.80" stroke="#777" stroke-width="1.0"/>
<line x1="431.65" y1="777.25" x2="431.65" y2="771.65" stroke="#777" stroke-width="1.0"/>
<line x1="431.65" y1="413.20" x2="431.65" y2="418.80" stroke="#777" stroke-width="1.0"/>
<line x1="450.25" y1="777.25" x2="450.25" y2="765.25" stroke="#444" stroke-width="1.2"/>
<line x1="450.25" y1="413.20" x2="450.25" y2="425.20" stroke="#444" stroke-width="1.2"/>
<line x1="468.85" y1="777.25" x2="468.85" y2="771.65" stroke="#777" stroke-width="1.0"/>
<line x1="468.85" y1="413.20" x2="468.85" y2="418.80" stroke="#777" stroke-width="1.0"/>
<line x1="78.10" y1="765.09" x2="82.90" y2="765.09" stroke="#000" stroke-width="1.5"/>
<line x1="487.60" y1="765.09" x2="482.80" y2="765.09" stroke="#777" stroke-width="1.0"/>
<line x1="78.10" y1="752.95" x2="82.90" y2="752.95" stroke="#000" stroke-width="1.5"/>
<line x1="487.60" y1="752.95" x2="482.80" y2="752.95" stroke="#777" stroke-width="1.0"/>
<line x1="78.10" y1="740.82" x2="82.90" y2="740.82" stroke="#000" stroke-width="1.5"/>
<line x1="487.60" y1="740.82" x2="482.80" y2="740.82" stroke="#777" stroke-width="1.0"/>
<line x1="78.10" y1="728.68" x2="82.90" y2="728.68" stroke="#000" stroke-width="1.5"/>
<line x1="487.60" y1="728.68" x2="482.80" y2="728.68" stroke="#777" stroke-width="1.0"/>
<line x1="78.10" y1="716.55" x2="90.10" y2="716.55" stroke="#000" stroke-width="2.4"/>
<line x1="487.60" y1="716.55" x2="475.60" y2="716.55" stroke="#444" stroke-width="1.2"/>
<line x1="78.10" y1="704.41" x2="82.90" y2="704.41" stroke="#000" stroke-width="1.5"/>
<line x1="487.60" y1="704.41" x2="482.80" y2="704.41" stroke="#777" stroke-width="1.0"/>
<line x1="78.10" y1="692.28" x2="82.90" y2="692.28" stroke="#000" stroke-width="1.5"/>
<line x1="487.60" y1="692.28" x2="482.80" y2="692.28" stroke="#777" stroke-width="1.0"/>
<line x1="78.10" y1="680.14" x2="82.90" y2="680.14" stroke="#000" stroke-width="1.5"/>
<line x1="487.60" y1="680.14" x2="482.80" y2="680.14" stroke="#777" stroke-width="1.0"/>
<line x1="78.10" y1="668.01" x2="82.90" y2="668.01" stroke="#000" stroke-width="1.5"/>
<line x1="487.60" y1="668.01" x2="482.80" y2="668.01" stroke="#777" stroke-width="1.0"/>
<line x1="78.10" y1="655.88" x2="90.10" y2="655.88" stroke="#000" stroke-width="2.4"/>
<line x1="487.60" y1="655.88" x2="475.60" y2="655.88" stroke="#444" stroke-width="1.2"/>
<line x1="78.10" y1="643.74" x2="82.90" y2="643.74" stroke="#000" stroke-width="1.5"/>
<line x1="487.60" y1="643.74" x2="482.80" y2="643.74" stroke="#777" stroke-width="1.0"/>
<line x1="78.10" y1="631.61" x2="82.90" y2="631.61" stroke="#000" stroke-width="1.5"/>
<line x1="487.60" y1="631.61" x2="482.80" y2="631.61" stroke="#777" stroke-width="1.0"/>
<line x1="78.10" y1="619.47" x2="82.90" y2="619.47" stroke="#000" stroke-width="1.5"/>
<line x1="487.60" y1="619.47" x2="482.80" y2="619.47" stroke="#777" stroke-width="1.0"/>
<line x1="78.10" y1="607.33" x2="82.90" y2="607.33" stroke="#000" stroke-width="1.5"/>
<line x1="487.60" y1="607.33" x2="482.80" y2="607.33" stroke="#777" stroke-width="1.0"/>
<line x1="78.10" y1="595.20" x2="90.10" y2="595.20" stroke="#000" stroke-width="2.4"/>
<line x1="487.60" y1="595.20" x2="475.60" y2="595.20" stroke="#444" stroke-width="1.2"/>
<line x1="78.10" y1="583.06" x2="82.90" y2="583.06" stroke="#000" stroke-width="1.5"/>
<line x1="487.60" y1="583.06" x2="482.80" y2="583.06" stroke="#777" stroke-width="1.0"/>
<line x1="78.10" y1="570.93" x2="82.90" y2="570.93" stroke="#000" stroke-width="1.5"/>
<line x1="487.60" y1="570.93" x2="482.80" y2="570.93" stroke="#777" stroke-width="1.0"/>
<line x1="78.10" y1="558.79" x2="82.90" y2="558.79" stroke="#000" stroke-width="1.5"/>
<line x1="487.60" y1="558.79" x2="482.80" y2="558.79" stroke="#777" stroke-width="1.0"/>
<line x1="78.10" y1="546.66" x2="82.90" y2="546.66" stroke="#000" stroke-width="1.5"/>
<line x1="487.60" y1="546.66" x2="482.80" y2="546.66" stroke="#777" stroke-width="1.0"/>
<line x1="78.10" y1="534.52" x2="90.10" y2="534.52" stroke="#444" stroke-width="1.2"/>
<line x1="487.60" y1="534.52" x2="475.60" y2="534.52" stroke="#444" stroke-width="1.2"/>
<line x1="78.10" y1="522.39" x2="82.90" y2="522.39" stroke="#777" stroke-width="1.0"/>
<line x1="487.60" y1="522.39" x2="482.80" y2="522.39" stroke="#777" stroke-width="1.0"/>
<line x1="78.10" y1="510.25" x2="82.90" y2="510.25" stroke="#777" stroke-width="1.0"/>
<line x1="487.60" y1="510.25" x2="482.80" y2="510.25" stroke="#777" stroke-width="1.0"/>
<line x1="78.10" y1="498.12" x2="82.90" y2="498.12" stroke="#777" stroke-width="1.0"/>
<line x1="487.60" y1="498.12" x2="482.80" y2="498.12" stroke="#777" stroke-width="1.0"/>
<line x1="78.10" y1="485.99" x2="82.90" y2="485.99" stroke="#777" stroke-width="1.0"/>
<line x1="487.60" y1="485.99" x2="482.80" y2="485.99" stroke="#777" stroke-width="1.0"/>
<line x1="78.10" y1="473.85" x2="90.10" y2="473.85" stroke="#444" stroke-width="1.2"/>
<line x1="487.60" y1="473.85" x2="475.60" y2="473.85" stroke="#444" stroke-width="1.2"/>
<line x1="78.10" y1="461.71" x2="82.90" y2="461.71" stroke="#777" stroke-width="1.0"/>
<line x1="487.60" y1="461.71" x2="482.80" y2="461.71" stroke="#777" stroke-width="1.0"/>
<line x1="78.10" y1="449.58" x2="82.90" y2="449.58" stroke="#777" stroke-width="1.0"/>
<line x1="487.60" y1="449.58" x2="482.80" y2="449.58" stroke="#777" stroke-width="1.0"/>
<line x1="78.10" y1="437.44" x2="82.90" y2="437.44" stroke="#777" stroke-width="1.0"/>
<line x1="487.60" y1="437.44" x2="482.80" y2="437.44" stroke="#777" stroke-width="1.0"/>
<line x1="78.10" y1="425.31" x2="82.90" y2="425.31" stroke="#777" stroke-width="1.0"/>
<line x1="487.60" y1="425.31" x2="482.80" y2="425.31" stroke="#777" stroke-width="1.0"/>
<text x="70.50" y="784.12" font-size="18.5" text-anchor="end">-0.5</text>
<text x="70.50" y="723.45" font-size="18.5" text-anchor="end">0.0</text>
<text x="70.50" y="662.77" font-size="18.5" text-anchor="end">0.5</text>
<text x="70.50" y="602.10" font-size="18.5" text-anchor="end">1.0</text>
<text x="70.50" y="541.42" font-size="18.5" text-anchor="end">1.5</text>
<text x="70.50" y="480.75" font-size="18.5" text-anchor="end">2.0</text>
<text x="70.50" y="420.07" font-size="18.5" text-anchor="end">2.5</text>
<text x="77.75" y="799.4" font-size="18.5" text-anchor="middle">-1.0</text>
<text x="170.75" y="799.4" font-size="18.5" text-anchor="middle">0.0</text>
<text x="263.75" y="799.4" font-size="18.5" text-anchor="middle">1.0</text>
<text x="356.75" y="799.4" font-size="18.5" text-anchor="middle">2.0</text>
<text x="449.75" y="799.4" font-size="18.5" text-anchor="middle">3.0</text>
<text transform="translate(281.85,831.5) scale(0.957,1)" font-size="22.4" text-anchor="middle">Dec<tspan dy="-9.41" font-size="13.89">0</tspan><tspan dy="9.41">​</tspan>-Feb<tspan dy="-9.41" font-size="13.89">1</tspan><tspan dy="9.41">​</tspan> ZL index (<tspan dy="-9.41" font-size="13.89">o</tspan><tspan dy="9.41">​</tspan>C)</text>
<text transform="translate(23.20,594.73) rotate(-90) scale(0.975,1)" font-size="22.6" text-anchor="middle">Jun<tspan dy="-9.49" font-size="14.01">0</tspan><tspan dy="9.49">​</tspan>-Aug<tspan dy="-9.49" font-size="14.01">0</tspan><tspan dy="9.49">​</tspan> Niño3.4 index (<tspan dy="-9.49" font-size="14.01">o</tspan><tspan dy="9.49">​</tspan>C)</text>
<text x="90.30" y="438.20" font-size="14.5" font-weight="bold" xml:space="preserve" style="white-space:pre" fill="#111">ZL&gt;1.15 &amp; N3.4&gt;1.45 <tspan font-weight="bold">(9,</tspan><tspan font-weight="normal" fill="#dc2c1b">1</tspan><tspan font-weight="bold">)</tspan></text>
<text x="90.30" y="454.55" font-size="14.5" font-weight="bold" xml:space="preserve" style="white-space:pre" fill="#111">ZL&lt;1.15 &amp; N3.4&gt;1.45 <tspan font-weight="bold">(8,</tspan><tspan font-weight="normal" fill="#dc2c1b">1</tspan><tspan font-weight="bold">)</tspan></text>
<text x="90.30" y="470.90" font-size="14.5" font-weight="bold" xml:space="preserve" style="white-space:pre" fill="#111">ZL&gt;1.15 &amp; N3.4&lt;1.45 <tspan font-weight="bold">(8,</tspan><tspan font-weight="normal" fill="#dc2c1b">0</tspan><tspan font-weight="bold">)</tspan></text>
<text x="90.30" y="487.25" font-size="14.5" font-weight="bold" xml:space="preserve" style="white-space:pre" fill="#111">ZL&lt;1.15 &amp; N3.4&lt;1.45 <tspan font-weight="normal">(115,</tspan><tspan font-weight="bold" fill="#dc2c1b">122</tspan><tspan font-weight="normal">)</tspan></text>
</g>
<g>
<text x="598.4" y="402.5" font-size="24.3" xml:space="preserve" style="white-space:pre"><tspan font-weight="bold">f</tspan>  El Niño, OBS</text>
<rect x="598.60" y="413.20" width="409.40" height="364.05" fill="#f8f8fa"/>
<rect x="598.60" y="540.59" width="199.45" height="236.66" fill="#fff"/>
<rect x="578.00" y="530.39" width="36.8" height="21.2" fill="#74c400"/>
<text x="597.00" y="545.59" font-size="13" font-weight="bold" fill="#fff" text-anchor="middle">1.45</text>
<rect x="778.75" y="767.25" width="37" height="20.6" fill="#74c400"/>
<text x="798.65" y="782.65" font-size="13.4" font-weight="bold" fill="#fff" text-anchor="middle">1.15</text>
<line x1="691.75" y1="413.20" x2="691.75" y2="777.25" stroke="#5a5a5a" stroke-width="1" stroke-dasharray="6.6 3.4"/>
<line x1="784.75" y1="413.20" x2="784.75" y2="777.25" stroke="#5a5a5a" stroke-width="1" stroke-dasharray="6.6 3.4"/>
<line x1="877.75" y1="413.20" x2="877.75" y2="777.25" stroke="#5a5a5a" stroke-width="1" stroke-dasharray="6.6 3.4"/>
<line x1="970.75" y1="413.20" x2="970.75" y2="777.25" stroke="#5a5a5a" stroke-width="1" stroke-dasharray="6.6 3.4"/>
<line x1="598.60" y1="716.55" x2="1008.00" y2="716.55" stroke="#5a5a5a" stroke-width="1" stroke-dasharray="6.6 3.4"/>
<line x1="598.60" y1="655.88" x2="1008.00" y2="655.88" stroke="#5a5a5a" stroke-width="1" stroke-dasharray="6.6 3.4"/>
<line x1="598.60" y1="595.20" x2="1008.00" y2="595.20" stroke="#5a5a5a" stroke-width="1" stroke-dasharray="6.6 3.4"/>
<line x1="598.60" y1="534.52" x2="1008.00" y2="534.52" stroke="#5a5a5a" stroke-width="1" stroke-dasharray="6.6 3.4"/>
<line x1="598.60" y1="473.85" x2="1008.00" y2="473.85" stroke="#5a5a5a" stroke-width="1" stroke-dasharray="6.6 3.4"/>
<line x1="798.05" y1="413.20" x2="798.05" y2="540.59" stroke="#74c400" stroke-width="1.4"/>
<line x1="798.05" y1="540.59" x2="1008.00" y2="540.59" stroke="#b6e28c" stroke-width="1.6"/>
<line x1="598.60" y1="540.59" x2="799.35" y2="540.59" stroke="#74c400" stroke-width="2.6"/>
<line x1="798.05" y1="540.59" x2="798.05" y2="777.25" stroke="#74c400" stroke-width="2.6"/>
<circle cx="714.25" cy="635" r="8.2" fill="#dc2c1b"/>
<circle cx="729.25" cy="629.25" r="8.2" fill="#dc2c1b"/>
<circle cx="764.25" cy="647" r="8.2" fill="#dc2c1b"/>
<circle cx="675" cy="676.25" r="8.2" fill="#dc2c1b"/>
<circle cx="672.5" cy="680.75" r="8.2" fill="#dc2c1b"/>
<circle cx="701.75" cy="694.25" r="8.2" fill="#dc2c1b"/>
<circle cx="749.25" cy="698" r="8.2" fill="#dc2c1b"/>
<circle cx="758" cy="693.25" r="8.2" fill="#dc2c1b"/>
<circle cx="769.25" cy="688.75" r="8.2" fill="#dc2c1b"/>
<circle cx="750.5" cy="720.5" r="8.2" fill="#dc2c1b"/>
<circle cx="753.5" cy="594.5" r="8.2" fill="#0c0c0c"/>
<circle cx="773" cy="599.25" r="8.2" fill="#0c0c0c"/>
<circle cx="812.25" cy="588.5" r="8.2" fill="#0c0c0c"/>
<circle cx="931.75" cy="600.5" r="8.2" fill="#0c0c0c"/>
<circle cx="743" cy="628" r="8.2" fill="#0c0c0c"/>
<circle cx="749.25" cy="628" r="8.2" fill="#0c0c0c"/>
<circle cx="785.5" cy="631" r="8.2" fill="#0c0c0c"/>
<circle cx="723" cy="661" r="8.2" fill="#0c0c0c"/>
<circle cx="716.25" cy="680.25" r="8.2" fill="#0c0c0c"/>
<circle cx="731.75" cy="700" r="8.2" fill="#0c0c0c"/>
<circle cx="756" cy="555.5" r="8.2" fill="#0c0c0c"/>
<circle cx="918" cy="514.5" r="8.2" fill="#0c0c0c"/>
<rect x="598.60" y="413.20" width="409.40" height="364.05" fill="none" stroke="#1a1a1a" stroke-width="1.2"/>
<line x1="598.60" y1="540.59" x2="598.60" y2="778.75" stroke="#000" stroke-width="2.4"/>
<line x1="598.60" y1="777.25" x2="798.05" y2="777.25" stroke="#000" stroke-width="2.4"/>
<line x1="617.35" y1="777.25" x2="617.35" y2="771.65" stroke="#000" stroke-width="1.5"/>
<line x1="617.35" y1="413.20" x2="617.35" y2="418.80" stroke="#777" stroke-width="1.0"/>
<line x1="635.95" y1="777.25" x2="635.95" y2="771.65" stroke="#000" stroke-width="1.5"/>
<line x1="635.95" y1="413.20" x2="635.95" y2="418.80" stroke="#777" stroke-width="1.0"/>
<line x1="654.55" y1="777.25" x2="654.55" y2="771.65" stroke="#000" stroke-width="1.5"/>
<line x1="654.55" y1="413.20" x2="654.55" y2="418.80" stroke="#777" stroke-width="1.0"/>
<line x1="673.15" y1="777.25" x2="673.15" y2="771.65" stroke="#000" stroke-width="1.5"/>
<line x1="673.15" y1="413.20" x2="673.15" y2="418.80" stroke="#777" stroke-width="1.0"/>
<line x1="691.75" y1="777.25" x2="691.75" y2="765.25" stroke="#000" stroke-width="2.4"/>
<line x1="691.75" y1="413.20" x2="691.75" y2="425.20" stroke="#444" stroke-width="1.2"/>
<line x1="710.35" y1="777.25" x2="710.35" y2="771.65" stroke="#000" stroke-width="1.5"/>
<line x1="710.35" y1="413.20" x2="710.35" y2="418.80" stroke="#777" stroke-width="1.0"/>
<line x1="728.95" y1="777.25" x2="728.95" y2="771.65" stroke="#000" stroke-width="1.5"/>
<line x1="728.95" y1="413.20" x2="728.95" y2="418.80" stroke="#777" stroke-width="1.0"/>
<line x1="747.55" y1="777.25" x2="747.55" y2="771.65" stroke="#000" stroke-width="1.5"/>
<line x1="747.55" y1="413.20" x2="747.55" y2="418.80" stroke="#777" stroke-width="1.0"/>
<line x1="766.15" y1="777.25" x2="766.15" y2="771.65" stroke="#000" stroke-width="1.5"/>
<line x1="766.15" y1="413.20" x2="766.15" y2="418.80" stroke="#777" stroke-width="1.0"/>
<line x1="784.75" y1="777.25" x2="784.75" y2="765.25" stroke="#000" stroke-width="2.4"/>
<line x1="784.75" y1="413.20" x2="784.75" y2="425.20" stroke="#444" stroke-width="1.2"/>
<line x1="803.35" y1="777.25" x2="803.35" y2="771.65" stroke="#777" stroke-width="1.0"/>
<line x1="803.35" y1="413.20" x2="803.35" y2="418.80" stroke="#777" stroke-width="1.0"/>
<line x1="821.95" y1="777.25" x2="821.95" y2="771.65" stroke="#777" stroke-width="1.0"/>
<line x1="821.95" y1="413.20" x2="821.95" y2="418.80" stroke="#777" stroke-width="1.0"/>
<line x1="840.55" y1="777.25" x2="840.55" y2="771.65" stroke="#777" stroke-width="1.0"/>
<line x1="840.55" y1="413.20" x2="840.55" y2="418.80" stroke="#777" stroke-width="1.0"/>
<line x1="859.15" y1="777.25" x2="859.15" y2="771.65" stroke="#777" stroke-width="1.0"/>
<line x1="859.15" y1="413.20" x2="859.15" y2="418.80" stroke="#777" stroke-width="1.0"/>
<line x1="877.75" y1="777.25" x2="877.75" y2="765.25" stroke="#444" stroke-width="1.2"/>
<line x1="877.75" y1="413.20" x2="877.75" y2="425.20" stroke="#444" stroke-width="1.2"/>
<line x1="896.35" y1="777.25" x2="896.35" y2="771.65" stroke="#777" stroke-width="1.0"/>
<line x1="896.35" y1="413.20" x2="896.35" y2="418.80" stroke="#777" stroke-width="1.0"/>
<line x1="914.95" y1="777.25" x2="914.95" y2="771.65" stroke="#777" stroke-width="1.0"/>
<line x1="914.95" y1="413.20" x2="914.95" y2="418.80" stroke="#777" stroke-width="1.0"/>
<line x1="933.55" y1="777.25" x2="933.55" y2="771.65" stroke="#777" stroke-width="1.0"/>
<line x1="933.55" y1="413.20" x2="933.55" y2="418.80" stroke="#777" stroke-width="1.0"/>
<line x1="952.15" y1="777.25" x2="952.15" y2="771.65" stroke="#777" stroke-width="1.0"/>
<line x1="952.15" y1="413.20" x2="952.15" y2="418.80" stroke="#777" stroke-width="1.0"/>
<line x1="970.75" y1="777.25" x2="970.75" y2="765.25" stroke="#444" stroke-width="1.2"/>
<line x1="970.75" y1="413.20" x2="970.75" y2="425.20" stroke="#444" stroke-width="1.2"/>
<line x1="989.35" y1="777.25" x2="989.35" y2="771.65" stroke="#777" stroke-width="1.0"/>
<line x1="989.35" y1="413.20" x2="989.35" y2="418.80" stroke="#777" stroke-width="1.0"/>
<line x1="598.60" y1="765.09" x2="603.40" y2="765.09" stroke="#000" stroke-width="1.5"/>
<line x1="1008.00" y1="765.09" x2="1003.20" y2="765.09" stroke="#777" stroke-width="1.0"/>
<line x1="598.60" y1="752.95" x2="603.40" y2="752.95" stroke="#000" stroke-width="1.5"/>
<line x1="1008.00" y1="752.95" x2="1003.20" y2="752.95" stroke="#777" stroke-width="1.0"/>
<line x1="598.60" y1="740.82" x2="603.40" y2="740.82" stroke="#000" stroke-width="1.5"/>
<line x1="1008.00" y1="740.82" x2="1003.20" y2="740.82" stroke="#777" stroke-width="1.0"/>
<line x1="598.60" y1="728.68" x2="603.40" y2="728.68" stroke="#000" stroke-width="1.5"/>
<line x1="1008.00" y1="728.68" x2="1003.20" y2="728.68" stroke="#777" stroke-width="1.0"/>
<line x1="598.60" y1="716.55" x2="610.60" y2="716.55" stroke="#000" stroke-width="2.4"/>
<line x1="1008.00" y1="716.55" x2="996.00" y2="716.55" stroke="#444" stroke-width="1.2"/>
<line x1="598.60" y1="704.41" x2="603.40" y2="704.41" stroke="#000" stroke-width="1.5"/>
<line x1="1008.00" y1="704.41" x2="1003.20" y2="704.41" stroke="#777" stroke-width="1.0"/>
<line x1="598.60" y1="692.28" x2="603.40" y2="692.28" stroke="#000" stroke-width="1.5"/>
<line x1="1008.00" y1="692.28" x2="1003.20" y2="692.28" stroke="#777" stroke-width="1.0"/>
<line x1="598.60" y1="680.14" x2="603.40" y2="680.14" stroke="#000" stroke-width="1.5"/>
<line x1="1008.00" y1="680.14" x2="1003.20" y2="680.14" stroke="#777" stroke-width="1.0"/>
<line x1="598.60" y1="668.01" x2="603.40" y2="668.01" stroke="#000" stroke-width="1.5"/>
<line x1="1008.00" y1="668.01" x2="1003.20" y2="668.01" stroke="#777" stroke-width="1.0"/>
<line x1="598.60" y1="655.88" x2="610.60" y2="655.88" stroke="#000" stroke-width="2.4"/>
<line x1="1008.00" y1="655.88" x2="996.00" y2="655.88" stroke="#444" stroke-width="1.2"/>
<line x1="598.60" y1="643.74" x2="603.40" y2="643.74" stroke="#000" stroke-width="1.5"/>
<line x1="1008.00" y1="643.74" x2="1003.20" y2="643.74" stroke="#777" stroke-width="1.0"/>
<line x1="598.60" y1="631.61" x2="603.40" y2="631.61" stroke="#000" stroke-width="1.5"/>
<line x1="1008.00" y1="631.61" x2="1003.20" y2="631.61" stroke="#777" stroke-width="1.0"/>
<line x1="598.60" y1="619.47" x2="603.40" y2="619.47" stroke="#000" stroke-width="1.5"/>
<line x1="1008.00" y1="619.47" x2="1003.20" y2="619.47" stroke="#777" stroke-width="1.0"/>
<line x1="598.60" y1="607.33" x2="603.40" y2="607.33" stroke="#000" stroke-width="1.5"/>
<line x1="1008.00" y1="607.33" x2="1003.20" y2="607.33" stroke="#777" stroke-width="1.0"/>
<line x1="598.60" y1="595.20" x2="610.60" y2="595.20" stroke="#000" stroke-width="2.4"/>
<line x1="1008.00" y1="595.20" x2="996.00" y2="595.20" stroke="#444" stroke-width="1.2"/>
<line x1="598.60" y1="583.06" x2="603.40" y2="583.06" stroke="#000" stroke-width="1.5"/>
<line x1="1008.00" y1="583.06" x2="1003.20" y2="583.06" stroke="#777" stroke-width="1.0"/>
<line x1="598.60" y1="570.93" x2="603.40" y2="570.93" stroke="#000" stroke-width="1.5"/>
<line x1="1008.00" y1="570.93" x2="1003.20" y2="570.93" stroke="#777" stroke-width="1.0"/>
<line x1="598.60" y1="558.79" x2="603.40" y2="558.79" stroke="#000" stroke-width="1.5"/>
<line x1="1008.00" y1="558.79" x2="1003.20" y2="558.79" stroke="#777" stroke-width="1.0"/>
<line x1="598.60" y1="546.66" x2="603.40" y2="546.66" stroke="#000" stroke-width="1.5"/>
<line x1="1008.00" y1="546.66" x2="1003.20" y2="546.66" stroke="#777" stroke-width="1.0"/>
<line x1="598.60" y1="534.52" x2="610.60" y2="534.52" stroke="#444" stroke-width="1.2"/>
<line x1="1008.00" y1="534.52" x2="996.00" y2="534.52" stroke="#444" stroke-width="1.2"/>
<line x1="598.60" y1="522.39" x2="603.40" y2="522.39" stroke="#777" stroke-width="1.0"/>
<line x1="1008.00" y1="522.39" x2="1003.20" y2="522.39" stroke="#777" stroke-width="1.0"/>
<line x1="598.60" y1="510.25" x2="603.40" y2="510.25" stroke="#777" stroke-width="1.0"/>
<line x1="1008.00" y1="510.25" x2="1003.20" y2="510.25" stroke="#777" stroke-width="1.0"/>
<line x1="598.60" y1="498.12" x2="603.40" y2="498.12" stroke="#777" stroke-width="1.0"/>
<line x1="1008.00" y1="498.12" x2="1003.20" y2="498.12" stroke="#777" stroke-width="1.0"/>
<line x1="598.60" y1="485.99" x2="603.40" y2="485.99" stroke="#777" stroke-width="1.0"/>
<line x1="1008.00" y1="485.99" x2="1003.20" y2="485.99" stroke="#777" stroke-width="1.0"/>
<line x1="598.60" y1="473.85" x2="610.60" y2="473.85" stroke="#444" stroke-width="1.2"/>
<line x1="1008.00" y1="473.85" x2="996.00" y2="473.85" stroke="#444" stroke-width="1.2"/>
<line x1="598.60" y1="461.71" x2="603.40" y2="461.71" stroke="#777" stroke-width="1.0"/>
<line x1="1008.00" y1="461.71" x2="1003.20" y2="461.71" stroke="#777" stroke-width="1.0"/>
<line x1="598.60" y1="449.58" x2="603.40" y2="449.58" stroke="#777" stroke-width="1.0"/>
<line x1="1008.00" y1="449.58" x2="1003.20" y2="449.58" stroke="#777" stroke-width="1.0"/>
<line x1="598.60" y1="437.44" x2="603.40" y2="437.44" stroke="#777" stroke-width="1.0"/>
<line x1="1008.00" y1="437.44" x2="1003.20" y2="437.44" stroke="#777" stroke-width="1.0"/>
<line x1="598.60" y1="425.31" x2="603.40" y2="425.31" stroke="#777" stroke-width="1.0"/>
<line x1="1008.00" y1="425.31" x2="1003.20" y2="425.31" stroke="#777" stroke-width="1.0"/>
<text x="591.00" y="784.12" font-size="18.5" text-anchor="end">-0.5</text>
<text x="591.00" y="723.45" font-size="18.5" text-anchor="end">0.0</text>
<text x="591.00" y="662.77" font-size="18.5" text-anchor="end">0.5</text>
<text x="591.00" y="602.10" font-size="18.5" text-anchor="end">1.0</text>
<text x="591.00" y="541.42" font-size="18.5" text-anchor="end">1.5</text>
<text x="591.00" y="480.75" font-size="18.5" text-anchor="end">2.0</text>
<text x="591.00" y="420.07" font-size="18.5" text-anchor="end">2.5</text>
<text x="598.25" y="799.4" font-size="18.5" text-anchor="middle">-1.0</text>
<text x="691.25" y="799.4" font-size="18.5" text-anchor="middle">0.0</text>
<text x="784.25" y="799.4" font-size="18.5" text-anchor="middle">1.0</text>
<text x="877.25" y="799.4" font-size="18.5" text-anchor="middle">2.0</text>
<text x="970.25" y="799.4" font-size="18.5" text-anchor="middle">3.0</text>
<text transform="translate(802.30,831.5) scale(0.957,1)" font-size="22.4" text-anchor="middle">Dec<tspan dy="-9.41" font-size="13.89">0</tspan><tspan dy="9.41">​</tspan>-Feb<tspan dy="-9.41" font-size="13.89">1</tspan><tspan dy="9.41">​</tspan> ZL index (<tspan dy="-9.41" font-size="13.89">o</tspan><tspan dy="9.41">​</tspan>C)</text>
<text transform="translate(543.70,594.73) rotate(-90) scale(0.975,1)" font-size="22.6" text-anchor="middle">Jun<tspan dy="-9.49" font-size="14.01">0</tspan><tspan dy="9.49">​</tspan>-Aug<tspan dy="-9.49" font-size="14.01">0</tspan><tspan dy="9.49">​</tspan> Niño3.4 index (<tspan dy="-9.49" font-size="14.01">o</tspan><tspan dy="9.49">​</tspan>C)</text>
<text x="610.80" y="438.20" font-size="14.5" font-weight="bold" xml:space="preserve" style="white-space:pre" fill="#111">ZL&gt;1.15 &amp; N3.4&gt;1.45 <tspan font-weight="bold">(1,</tspan><tspan font-weight="normal" fill="#dc2c1b">0</tspan><tspan font-weight="bold">)</tspan></text>
<text x="610.80" y="454.55" font-size="14.5" font-weight="bold" xml:space="preserve" style="white-space:pre" fill="#111">ZL&lt;1.15 &amp; N3.4&gt;1.45 <tspan font-weight="normal">(0,</tspan><tspan font-weight="normal" fill="#dc2c1b">0</tspan><tspan font-weight="normal">)</tspan></text>
<text x="610.80" y="470.90" font-size="14.5" font-weight="bold" xml:space="preserve" style="white-space:pre" fill="#111">ZL&gt;1.15 &amp; N3.4&lt;1.45 <tspan font-weight="bold">(2,</tspan><tspan font-weight="normal" fill="#dc2c1b">0</tspan><tspan font-weight="bold">)</tspan></text>
<text x="610.80" y="487.25" font-size="14.5" font-weight="bold" xml:space="preserve" style="white-space:pre" fill="#111">ZL&lt;1.15 &amp; N3.4&lt;1.45 <tspan font-weight="normal">(9,</tspan><tspan font-weight="bold" fill="#dc2c1b">10</tspan><tspan font-weight="normal">)</tspan></text>
</g>
<g>
<text x="1118.6" y="403.5" font-size="24.3" xml:space="preserve" style="white-space:pre"><tspan font-weight="bold">g</tspan>  La Niña, CESM1</text>
<rect x="1118.80" y="415.80" width="409.30" height="364.10" fill="#f8f8fa"/>
<rect x="1354.50" y="415.80" width="173.60" height="364.10" fill="#fff"/>
<rect x="1335.00" y="769.10" width="37.2" height="21.5" fill="#963cb8"/>
<text x="1353.80" y="785.10" font-size="13.6" font-weight="bold" fill="#fff" text-anchor="middle">0.35</text>
<line x1="1148.20" y1="415.80" x2="1148.20" y2="779.90" stroke="#5a5a5a" stroke-width="1" stroke-dasharray="6.6 3.4"/>
<line x1="1224.20" y1="415.80" x2="1224.20" y2="779.90" stroke="#5a5a5a" stroke-width="1" stroke-dasharray="6.6 3.4"/>
<line x1="1300.20" y1="415.80" x2="1300.20" y2="779.90" stroke="#5a5a5a" stroke-width="1" stroke-dasharray="6.6 3.4"/>
<line x1="1376.20" y1="415.80" x2="1376.20" y2="779.90" stroke="#5a5a5a" stroke-width="1" stroke-dasharray="6.6 3.4"/>
<line x1="1452.20" y1="415.80" x2="1452.20" y2="779.90" stroke="#5a5a5a" stroke-width="1" stroke-dasharray="6.6 3.4"/>
<line x1="1118.80" y1="728.12" x2="1528.10" y2="728.12" stroke="#5a5a5a" stroke-width="1" stroke-dasharray="6.6 3.4"/>
<line x1="1118.80" y1="676.10" x2="1528.10" y2="676.10" stroke="#5a5a5a" stroke-width="1" stroke-dasharray="6.6 3.4"/>
<line x1="1118.80" y1="624.08" x2="1528.10" y2="624.08" stroke="#5a5a5a" stroke-width="1" stroke-dasharray="6.6 3.4"/>
<line x1="1118.80" y1="572.06" x2="1528.10" y2="572.06" stroke="#5a5a5a" stroke-width="1" stroke-dasharray="6.6 3.4"/>
<line x1="1118.80" y1="520.04" x2="1528.10" y2="520.04" stroke="#5a5a5a" stroke-width="1" stroke-dasharray="6.6 3.4"/>
<line x1="1118.80" y1="468.02" x2="1528.10" y2="468.02" stroke="#5a5a5a" stroke-width="1" stroke-dasharray="6.6 3.4"/>
<line x1="1354.50" y1="415.80" x2="1354.50" y2="779.90" stroke="#963cb8" stroke-width="2"/>
<circle cx="1153.0" cy="525.8" r="3.55" fill="#474ca9"/>
<circle cx="1176.8" cy="526.2" r="3.55" fill="#474ca9"/>
<circle cx="1192.2" cy="486.8" r="3.55" fill="#474ca9"/>
<circle cx="1213.5" cy="480.0" r="3.55" fill="#474ca9"/>
<circle cx="1217.2" cy="477.5" r="3.55" fill="#474ca9"/>
<circle cx="1193.5" cy="499.5" r="3.55" fill="#474ca9"/>
<circle cx="1197.2" cy="502.0" r="3.55" fill="#474ca9"/>
<circle cx="1200.2" cy="500.0" r="3.55" fill="#474ca9"/>
<circle cx="1206.0" cy="511.8" r="3.55" fill="#474ca9"/>
<circle cx="1211.0" cy="510.0" r="3.55" fill="#474ca9"/>
<circle cx="1192.8" cy="536.5" r="3.55" fill="#474ca9"/>
<circle cx="1204.2" cy="533.2" r="3.55" fill="#474ca9"/>
<circle cx="1204.8" cy="541.8" r="3.55" fill="#474ca9"/>
<circle cx="1225.5" cy="510.8" r="3.55" fill="#474ca9"/>
<circle cx="1228.0" cy="515.8" r="3.55" fill="#474ca9"/>
<circle cx="1233.0" cy="519.8" r="3.55" fill="#474ca9"/>
<circle cx="1225.2" cy="524.2" r="3.55" fill="#474ca9"/>
<circle cx="1221.0" cy="530.0" r="3.55" fill="#474ca9"/>
<circle cx="1236.0" cy="533.0" r="3.55" fill="#474ca9"/>
<circle cx="1233.5" cy="540.0" r="3.55" fill="#474ca9"/>
<circle cx="1241.0" cy="540.5" r="3.55" fill="#474ca9"/>
<circle cx="1241.0" cy="501.8" r="3.55" fill="#474ca9"/>
<circle cx="1241.5" cy="518.0" r="3.55" fill="#474ca9"/>
<circle cx="1255.5" cy="522.5" r="3.55" fill="#474ca9"/>
<circle cx="1248.5" cy="548.5" r="3.55" fill="#474ca9"/>
<circle cx="1260.5" cy="548.8" r="3.55" fill="#474ca9"/>
<circle cx="1241.0" cy="559.5" r="3.55" fill="#474ca9"/>
<circle cx="1259.0" cy="558.0" r="3.55" fill="#474ca9"/>
<circle cx="1257.8" cy="563.8" r="3.55" fill="#474ca9"/>
<circle cx="1269.0" cy="558.8" r="3.55" fill="#474ca9"/>
<circle cx="1277.2" cy="491.5" r="3.55" fill="#474ca9"/>
<circle cx="1264.2" cy="500.5" r="3.55" fill="#474ca9"/>
<circle cx="1267.2" cy="513.8" r="3.55" fill="#474ca9"/>
<circle cx="1272.2" cy="517.5" r="3.55" fill="#474ca9"/>
<circle cx="1272.2" cy="522.5" r="3.55" fill="#474ca9"/>
<circle cx="1273.5" cy="532.0" r="3.55" fill="#474ca9"/>
<circle cx="1281.5" cy="532.5" r="3.55" fill="#474ca9"/>
<circle cx="1286.0" cy="521.2" r="3.55" fill="#474ca9"/>
<circle cx="1283.5" cy="546.2" r="3.55" fill="#474ca9"/>
<circle cx="1289.2" cy="504.0" r="3.55" fill="#474ca9"/>
<circle cx="1311.8" cy="511.0" r="3.55" fill="#474ca9"/>
<circle cx="1301.8" cy="527.5" r="3.55" fill="#474ca9"/>
<circle cx="1334.0" cy="523.5" r="3.55" fill="#474ca9"/>
<circle cx="1356.8" cy="527.0" r="3.55" fill="#474ca9"/>
<circle cx="1314.2" cy="556.8" r="3.55" fill="#474ca9"/>
<circle cx="1300.2" cy="565.0" r="3.55" fill="#474ca9"/>
<circle cx="1334.0" cy="561.8" r="3.55" fill="#474ca9"/>
<circle cx="1366.5" cy="561.5" r="3.55" fill="#474ca9"/>
<circle cx="1243.5" cy="573.8" r="3.55" fill="#474ca9"/>
<circle cx="1244.8" cy="580.5" r="3.55" fill="#474ca9"/>
<circle cx="1255.5" cy="577.5" r="3.55" fill="#474ca9"/>
<circle cx="1258.5" cy="575.0" r="3.55" fill="#474ca9"/>
<circle cx="1273.0" cy="578.8" r="3.55" fill="#474ca9"/>
<circle cx="1267.2" cy="582.5" r="3.55" fill="#474ca9"/>
<circle cx="1284.2" cy="580.5" r="3.55" fill="#474ca9"/>
<circle cx="1286.0" cy="583.8" r="3.55" fill="#474ca9"/>
<circle cx="1309.2" cy="580.8" r="3.55" fill="#474ca9"/>
<circle cx="1324.0" cy="575.8" r="3.55" fill="#474ca9"/>
<circle cx="1218.5" cy="581.2" r="3.55" fill="#474ca9"/>
<circle cx="1219.2" cy="587.5" r="3.55" fill="#474ca9"/>
<circle cx="1234.0" cy="588.8" r="3.55" fill="#474ca9"/>
<circle cx="1254.0" cy="588.0" r="3.55" fill="#474ca9"/>
<circle cx="1269.0" cy="588.8" r="3.55" fill="#474ca9"/>
<circle cx="1348.5" cy="588.0" r="3.55" fill="#474ca9"/>
<circle cx="1181.8" cy="603.8" r="3.55" fill="#474ca9"/>
<circle cx="1215.5" cy="597.0" r="3.55" fill="#474ca9"/>
<circle cx="1211.8" cy="613.0" r="3.55" fill="#474ca9"/>
<circle cx="1238.0" cy="604.5" r="3.55" fill="#474ca9"/>
<circle cx="1236.8" cy="608.2" r="3.55" fill="#474ca9"/>
<circle cx="1248.0" cy="624.2" r="3.55" fill="#474ca9"/>
<circle cx="1258.0" cy="600.5" r="3.55" fill="#474ca9"/>
<circle cx="1274.8" cy="596.2" r="3.55" fill="#474ca9"/>
<circle cx="1275.5" cy="603.8" r="3.55" fill="#474ca9"/>
<circle cx="1268.5" cy="603.8" r="3.55" fill="#474ca9"/>
<circle cx="1274.8" cy="610.8" r="3.55" fill="#474ca9"/>
<circle cx="1267.2" cy="613.2" r="3.55" fill="#474ca9"/>
<circle cx="1299.8" cy="594.5" r="3.55" fill="#474ca9"/>
<circle cx="1302.2" cy="598.8" r="3.55" fill="#474ca9"/>
<circle cx="1309.2" cy="603.0" r="3.55" fill="#474ca9"/>
<circle cx="1311.0" cy="608.0" r="3.55" fill="#474ca9"/>
<circle cx="1303.5" cy="611.2" r="3.55" fill="#474ca9"/>
<circle cx="1297.2" cy="606.2" r="3.55" fill="#474ca9"/>
<circle cx="1282.8" cy="618.8" r="3.55" fill="#474ca9"/>
<circle cx="1284.2" cy="623.8" r="3.55" fill="#474ca9"/>
<circle cx="1296.0" cy="623.8" r="3.55" fill="#474ca9"/>
<circle cx="1292.2" cy="630.0" r="3.55" fill="#474ca9"/>
<circle cx="1302.2" cy="631.2" r="3.55" fill="#474ca9"/>
<circle cx="1304.8" cy="633.8" r="3.55" fill="#474ca9"/>
<circle cx="1315.2" cy="618.8" r="3.55" fill="#474ca9"/>
<circle cx="1323.0" cy="623.8" r="3.55" fill="#474ca9"/>
<circle cx="1318.5" cy="630.0" r="3.55" fill="#474ca9"/>
<circle cx="1321.0" cy="636.2" r="3.55" fill="#474ca9"/>
<circle cx="1326.0" cy="637.5" r="3.55" fill="#474ca9"/>
<circle cx="1329.8" cy="632.5" r="3.55" fill="#474ca9"/>
<circle cx="1334.2" cy="615.8" r="3.55" fill="#474ca9"/>
<circle cx="1338.5" cy="630.0" r="3.55" fill="#474ca9"/>
<circle cx="1344.8" cy="622.0" r="3.55" fill="#474ca9"/>
<circle cx="1356.8" cy="637.0" r="3.55" fill="#474ca9"/>
<circle cx="1362.2" cy="629.5" r="3.55" fill="#474ca9"/>
<circle cx="1378.5" cy="624.2" r="3.55" fill="#474ca9"/>
<circle cx="1262.2" cy="637.5" r="3.55" fill="#474ca9"/>
<circle cx="1274.8" cy="638.0" r="3.55" fill="#474ca9"/>
<circle cx="1282.2" cy="638.0" r="3.55" fill="#474ca9"/>
<circle cx="1233.5" cy="645.0" r="3.55" fill="#474ca9"/>
<circle cx="1237.2" cy="652.0" r="3.55" fill="#474ca9"/>
<circle cx="1274.8" cy="648.2" r="3.55" fill="#474ca9"/>
<circle cx="1288.5" cy="653.2" r="3.55" fill="#474ca9"/>
<circle cx="1298.0" cy="649.2" r="3.55" fill="#474ca9"/>
<circle cx="1314.8" cy="645.0" r="3.55" fill="#474ca9"/>
<circle cx="1319.8" cy="652.0" r="3.55" fill="#474ca9"/>
<circle cx="1344.2" cy="643.2" r="3.55" fill="#474ca9"/>
<circle cx="1371.8" cy="644.5" r="3.55" fill="#474ca9"/>
<circle cx="1377.2" cy="645.8" r="3.55" fill="#474ca9"/>
<circle cx="1258.5" cy="656.8" r="3.55" fill="#474ca9"/>
<circle cx="1276.8" cy="660.8" r="3.55" fill="#474ca9"/>
<circle cx="1312.2" cy="660.0" r="3.55" fill="#474ca9"/>
<circle cx="1317.2" cy="661.2" r="3.55" fill="#474ca9"/>
<circle cx="1324.8" cy="659.2" r="3.55" fill="#474ca9"/>
<circle cx="1334.8" cy="652.5" r="3.55" fill="#474ca9"/>
<circle cx="1339.8" cy="652.5" r="3.55" fill="#474ca9"/>
<circle cx="1348.5" cy="655.8" r="3.55" fill="#474ca9"/>
<circle cx="1354.8" cy="657.5" r="3.55" fill="#474ca9"/>
<circle cx="1378.5" cy="655.0" r="3.55" fill="#474ca9"/>
<circle cx="1386.0" cy="655.8" r="3.55" fill="#474ca9"/>
<circle cx="1391.0" cy="653.0" r="3.55" fill="#474ca9"/>
<circle cx="1393.5" cy="660.0" r="3.55" fill="#474ca9"/>
<circle cx="1264.0" cy="669.5" r="3.55" fill="#474ca9"/>
<circle cx="1291.0" cy="669.5" r="3.55" fill="#474ca9"/>
<circle cx="1296.0" cy="666.2" r="3.55" fill="#474ca9"/>
<circle cx="1298.5" cy="668.2" r="3.55" fill="#474ca9"/>
<circle cx="1303.0" cy="663.2" r="3.55" fill="#474ca9"/>
<circle cx="1316.0" cy="664.5" r="3.55" fill="#474ca9"/>
<circle cx="1318.5" cy="670.0" r="3.55" fill="#474ca9"/>
<circle cx="1321.0" cy="673.2" r="3.55" fill="#474ca9"/>
<circle cx="1327.2" cy="671.2" r="3.55" fill="#474ca9"/>
<circle cx="1332.2" cy="670.0" r="3.55" fill="#474ca9"/>
<circle cx="1361.0" cy="670.0" r="3.55" fill="#474ca9"/>
<circle cx="1384.8" cy="666.2" r="3.55" fill="#474ca9"/>
<circle cx="1407.2" cy="670.0" r="3.55" fill="#474ca9"/>
<circle cx="1421.0" cy="666.2" r="3.55" fill="#474ca9"/>
<circle cx="1276.0" cy="682.5" r="3.55" fill="#474ca9"/>
<circle cx="1284.8" cy="679.5" r="3.55" fill="#474ca9"/>
<circle cx="1289.8" cy="682.5" r="3.55" fill="#474ca9"/>
<circle cx="1298.5" cy="677.5" r="3.55" fill="#474ca9"/>
<circle cx="1302.2" cy="685.0" r="3.55" fill="#474ca9"/>
<circle cx="1306.0" cy="687.5" r="3.55" fill="#474ca9"/>
<circle cx="1317.2" cy="681.2" r="3.55" fill="#474ca9"/>
<circle cx="1323.5" cy="687.5" r="3.55" fill="#474ca9"/>
<circle cx="1332.2" cy="685.0" r="3.55" fill="#474ca9"/>
<circle cx="1336.0" cy="688.0" r="3.55" fill="#474ca9"/>
<circle cx="1337.8" cy="690.0" r="3.55" fill="#474ca9"/>
<circle cx="1354.8" cy="680.0" r="3.55" fill="#474ca9"/>
<circle cx="1359.8" cy="678.8" r="3.55" fill="#474ca9"/>
<circle cx="1366.0" cy="677.0" r="3.55" fill="#474ca9"/>
<circle cx="1373.5" cy="679.5" r="3.55" fill="#474ca9"/>
<circle cx="1372.2" cy="692.5" r="3.55" fill="#474ca9"/>
<circle cx="1377.2" cy="695.8" r="3.55" fill="#474ca9"/>
<circle cx="1379.8" cy="702.0" r="3.55" fill="#474ca9"/>
<circle cx="1389.8" cy="687.0" r="3.55" fill="#474ca9"/>
<circle cx="1299.8" cy="703.2" r="3.55" fill="#474ca9"/>
<circle cx="1307.2" cy="701.2" r="3.55" fill="#474ca9"/>
<circle cx="1314.8" cy="698.2" r="3.55" fill="#474ca9"/>
<circle cx="1322.2" cy="702.5" r="3.55" fill="#474ca9"/>
<circle cx="1327.2" cy="706.2" r="3.55" fill="#474ca9"/>
<circle cx="1339.8" cy="702.5" r="3.55" fill="#474ca9"/>
<circle cx="1262.2" cy="704.0" r="3.55" fill="#474ca9"/>
<circle cx="1286.8" cy="711.8" r="3.55" fill="#474ca9"/>
<circle cx="1294.8" cy="714.5" r="3.55" fill="#474ca9"/>
<circle cx="1290.5" cy="719.2" r="3.55" fill="#474ca9"/>
<circle cx="1301.8" cy="709.2" r="3.55" fill="#474ca9"/>
<circle cx="1303.5" cy="722.5" r="3.55" fill="#474ca9"/>
<circle cx="1313.0" cy="713.0" r="3.55" fill="#474ca9"/>
<circle cx="1323.5" cy="723.2" r="3.55" fill="#474ca9"/>
<circle cx="1328.5" cy="713.8" r="3.55" fill="#474ca9"/>
<circle cx="1332.2" cy="719.5" r="3.55" fill="#474ca9"/>
<circle cx="1339.8" cy="713.8" r="3.55" fill="#474ca9"/>
<circle cx="1351.0" cy="707.5" r="3.55" fill="#474ca9"/>
<circle cx="1351.0" cy="714.2" r="3.55" fill="#474ca9"/>
<circle cx="1356.8" cy="710.0" r="3.55" fill="#474ca9"/>
<circle cx="1362.2" cy="707.0" r="3.55" fill="#474ca9"/>
<circle cx="1371.0" cy="709.2" r="3.55" fill="#474ca9"/>
<circle cx="1363.5" cy="715.0" r="3.55" fill="#474ca9"/>
<circle cx="1366.0" cy="716.2" r="3.55" fill="#474ca9"/>
<circle cx="1384.8" cy="718.2" r="3.55" fill="#474ca9"/>
<circle cx="1254.8" cy="734.5" r="3.55" fill="#474ca9"/>
<circle cx="1299.8" cy="559.5" r="3.55" fill="#121413"/>
<circle cx="1358.0" cy="579.2" r="3.55" fill="#121413"/>
<circle cx="1358.5" cy="590.0" r="3.55" fill="#121413"/>
<circle cx="1381.0" cy="601.2" r="3.55" fill="#121413"/>
<circle cx="1383.5" cy="617.5" r="3.55" fill="#121413"/>
<circle cx="1258.5" cy="602.5" r="3.55" fill="#121413"/>
<circle cx="1293.5" cy="600.5" r="3.55" fill="#121413"/>
<circle cx="1293.5" cy="610.0" r="3.55" fill="#121413"/>
<circle cx="1292.2" cy="614.2" r="3.55" fill="#121413"/>
<circle cx="1299.8" cy="615.0" r="3.55" fill="#121413"/>
<circle cx="1338.5" cy="626.2" r="3.55" fill="#121413"/>
<circle cx="1353.0" cy="627.5" r="3.55" fill="#121413"/>
<circle cx="1359.8" cy="631.2" r="3.55" fill="#121413"/>
<circle cx="1308.5" cy="643.0" r="3.55" fill="#121413"/>
<circle cx="1325.2" cy="648.8" r="3.55" fill="#121413"/>
<circle cx="1325.2" cy="653.0" r="3.55" fill="#121413"/>
<circle cx="1282.2" cy="653.8" r="3.55" fill="#121413"/>
<circle cx="1359.2" cy="665.0" r="3.55" fill="#121413"/>
<circle cx="1364.0" cy="663.8" r="3.55" fill="#121413"/>
<circle cx="1379.0" cy="665.0" r="3.55" fill="#121413"/>
<circle cx="1389.0" cy="665.8" r="3.55" fill="#121413"/>
<circle cx="1446.8" cy="660.0" r="3.55" fill="#121413"/>
<circle cx="1463.0" cy="674.0" r="3.55" fill="#121413"/>
<circle cx="1280.2" cy="670.0" r="3.55" fill="#121413"/>
<circle cx="1304.8" cy="672.0" r="3.55" fill="#121413"/>
<circle cx="1339.2" cy="673.0" r="3.55" fill="#121413"/>
<circle cx="1343.0" cy="678.2" r="3.55" fill="#121413"/>
<circle cx="1327.2" cy="679.5" r="3.55" fill="#121413"/>
<circle cx="1357.2" cy="673.8" r="3.55" fill="#121413"/>
<circle cx="1381.0" cy="678.8" r="3.55" fill="#121413"/>
<circle cx="1426.5" cy="680.8" r="3.55" fill="#121413"/>
<circle cx="1350.5" cy="685.5" r="3.55" fill="#121413"/>
<circle cx="1360.5" cy="683.2" r="3.55" fill="#121413"/>
<circle cx="1371.8" cy="688.8" r="3.55" fill="#121413"/>
<circle cx="1382.2" cy="687.0" r="3.55" fill="#121413"/>
<circle cx="1387.2" cy="685.8" r="3.55" fill="#121413"/>
<circle cx="1407.2" cy="689.0" r="3.55" fill="#121413"/>
<circle cx="1296.0" cy="690.8" r="3.55" fill="#121413"/>
<circle cx="1307.2" cy="691.8" r="3.55" fill="#121413"/>
<circle cx="1352.2" cy="692.0" r="3.55" fill="#121413"/>
<circle cx="1357.2" cy="696.8" r="3.55" fill="#121413"/>
<circle cx="1364.8" cy="696.8" r="3.55" fill="#121413"/>
<circle cx="1388.0" cy="693.2" r="3.55" fill="#121413"/>
<circle cx="1421.0" cy="693.2" r="3.55" fill="#121413"/>
<circle cx="1415.5" cy="698.2" r="3.55" fill="#121413"/>
<circle cx="1429.8" cy="695.5" r="3.55" fill="#121413"/>
<circle cx="1431.0" cy="700.0" r="3.55" fill="#121413"/>
<circle cx="1434.2" cy="701.5" r="3.55" fill="#121413"/>
<circle cx="1318.5" cy="699.5" r="3.55" fill="#121413"/>
<circle cx="1324.8" cy="695.8" r="3.55" fill="#121413"/>
<circle cx="1331.8" cy="702.5" r="3.55" fill="#121413"/>
<circle cx="1335.5" cy="706.8" r="3.55" fill="#121413"/>
<circle cx="1348.5" cy="702.5" r="3.55" fill="#121413"/>
<circle cx="1356.8" cy="702.5" r="3.55" fill="#121413"/>
<circle cx="1375.5" cy="700.0" r="3.55" fill="#121413"/>
<circle cx="1385.2" cy="701.8" r="3.55" fill="#121413"/>
<circle cx="1399.2" cy="705.0" r="3.55" fill="#121413"/>
<circle cx="1404.8" cy="709.5" r="3.55" fill="#121413"/>
<circle cx="1318.5" cy="712.5" r="3.55" fill="#121413"/>
<circle cx="1336.0" cy="714.2" r="3.55" fill="#121413"/>
<circle cx="1326.8" cy="718.8" r="3.55" fill="#121413"/>
<circle cx="1357.2" cy="711.2" r="3.55" fill="#121413"/>
<circle cx="1359.2" cy="714.5" r="3.55" fill="#121413"/>
<circle cx="1384.2" cy="716.8" r="3.55" fill="#121413"/>
<rect x="1118.80" y="415.80" width="409.30" height="364.10" fill="none" stroke="#1a1a1a" stroke-width="1.2"/>
<line x1="1354.50" y1="415.80" x2="1529.60" y2="415.80" stroke="#000" stroke-width="2.4"/>
<line x1="1528.10" y1="415.80" x2="1528.10" y2="781.40" stroke="#000" stroke-width="2.4"/>
<line x1="1354.50" y1="779.90" x2="1528.10" y2="779.90" stroke="#000" stroke-width="2.4"/>
<line x1="1133.00" y1="779.90" x2="1133.00" y2="774.30" stroke="#777" stroke-width="1.0"/>
<line x1="1133.00" y1="415.80" x2="1133.00" y2="421.40" stroke="#777" stroke-width="1.0"/>
<line x1="1148.20" y1="779.90" x2="1148.20" y2="767.90" stroke="#444" stroke-width="1.2"/>
<line x1="1148.20" y1="415.80" x2="1148.20" y2="427.80" stroke="#444" stroke-width="1.2"/>
<line x1="1163.40" y1="779.90" x2="1163.40" y2="774.30" stroke="#777" stroke-width="1.0"/>
<line x1="1163.40" y1="415.80" x2="1163.40" y2="421.40" stroke="#777" stroke-width="1.0"/>
<line x1="1178.60" y1="779.90" x2="1178.60" y2="774.30" stroke="#777" stroke-width="1.0"/>
<line x1="1178.60" y1="415.80" x2="1178.60" y2="421.40" stroke="#777" stroke-width="1.0"/>
<line x1="1193.80" y1="779.90" x2="1193.80" y2="774.30" stroke="#777" stroke-width="1.0"/>
<line x1="1193.80" y1="415.80" x2="1193.80" y2="421.40" stroke="#777" stroke-width="1.0"/>
<line x1="1209.00" y1="779.90" x2="1209.00" y2="774.30" stroke="#777" stroke-width="1.0"/>
<line x1="1209.00" y1="415.80" x2="1209.00" y2="421.40" stroke="#777" stroke-width="1.0"/>
<line x1="1224.20" y1="779.90" x2="1224.20" y2="767.90" stroke="#444" stroke-width="1.2"/>
<line x1="1224.20" y1="415.80" x2="1224.20" y2="427.80" stroke="#444" stroke-width="1.2"/>
<line x1="1239.40" y1="779.90" x2="1239.40" y2="774.30" stroke="#777" stroke-width="1.0"/>
<line x1="1239.40" y1="415.80" x2="1239.40" y2="421.40" stroke="#777" stroke-width="1.0"/>
<line x1="1254.60" y1="779.90" x2="1254.60" y2="774.30" stroke="#777" stroke-width="1.0"/>
<line x1="1254.60" y1="415.80" x2="1254.60" y2="421.40" stroke="#777" stroke-width="1.0"/>
<line x1="1269.80" y1="779.90" x2="1269.80" y2="774.30" stroke="#777" stroke-width="1.0"/>
<line x1="1269.80" y1="415.80" x2="1269.80" y2="421.40" stroke="#777" stroke-width="1.0"/>
<line x1="1285.00" y1="779.90" x2="1285.00" y2="774.30" stroke="#777" stroke-width="1.0"/>
<line x1="1285.00" y1="415.80" x2="1285.00" y2="421.40" stroke="#777" stroke-width="1.0"/>
<line x1="1300.20" y1="779.90" x2="1300.20" y2="767.90" stroke="#444" stroke-width="1.2"/>
<line x1="1300.20" y1="415.80" x2="1300.20" y2="427.80" stroke="#444" stroke-width="1.2"/>
<line x1="1315.40" y1="779.90" x2="1315.40" y2="774.30" stroke="#777" stroke-width="1.0"/>
<line x1="1315.40" y1="415.80" x2="1315.40" y2="421.40" stroke="#777" stroke-width="1.0"/>
<line x1="1330.60" y1="779.90" x2="1330.60" y2="774.30" stroke="#777" stroke-width="1.0"/>
<line x1="1330.60" y1="415.80" x2="1330.60" y2="421.40" stroke="#777" stroke-width="1.0"/>
<line x1="1345.80" y1="779.90" x2="1345.80" y2="774.30" stroke="#777" stroke-width="1.0"/>
<line x1="1345.80" y1="415.80" x2="1345.80" y2="421.40" stroke="#777" stroke-width="1.0"/>
<line x1="1361.00" y1="779.90" x2="1361.00" y2="774.30" stroke="#000" stroke-width="1.5"/>
<line x1="1361.00" y1="415.80" x2="1361.00" y2="421.40" stroke="#000" stroke-width="1.5"/>
<line x1="1376.20" y1="779.90" x2="1376.20" y2="767.90" stroke="#000" stroke-width="2.4"/>
<line x1="1376.20" y1="415.80" x2="1376.20" y2="427.80" stroke="#000" stroke-width="2.4"/>
<line x1="1391.40" y1="779.90" x2="1391.40" y2="774.30" stroke="#000" stroke-width="1.5"/>
<line x1="1391.40" y1="415.80" x2="1391.40" y2="421.40" stroke="#000" stroke-width="1.5"/>
<line x1="1406.60" y1="779.90" x2="1406.60" y2="774.30" stroke="#000" stroke-width="1.5"/>
<line x1="1406.60" y1="415.80" x2="1406.60" y2="421.40" stroke="#000" stroke-width="1.5"/>
<line x1="1421.80" y1="779.90" x2="1421.80" y2="774.30" stroke="#000" stroke-width="1.5"/>
<line x1="1421.80" y1="415.80" x2="1421.80" y2="421.40" stroke="#000" stroke-width="1.5"/>
<line x1="1437.00" y1="779.90" x2="1437.00" y2="774.30" stroke="#000" stroke-width="1.5"/>
<line x1="1437.00" y1="415.80" x2="1437.00" y2="421.40" stroke="#000" stroke-width="1.5"/>
<line x1="1452.20" y1="779.90" x2="1452.20" y2="767.90" stroke="#000" stroke-width="2.4"/>
<line x1="1452.20" y1="415.80" x2="1452.20" y2="427.80" stroke="#000" stroke-width="2.4"/>
<line x1="1467.40" y1="779.90" x2="1467.40" y2="774.30" stroke="#000" stroke-width="1.5"/>
<line x1="1467.40" y1="415.80" x2="1467.40" y2="421.40" stroke="#000" stroke-width="1.5"/>
<line x1="1482.60" y1="779.90" x2="1482.60" y2="774.30" stroke="#000" stroke-width="1.5"/>
<line x1="1482.60" y1="415.80" x2="1482.60" y2="421.40" stroke="#000" stroke-width="1.5"/>
<line x1="1497.80" y1="779.90" x2="1497.80" y2="774.30" stroke="#000" stroke-width="1.5"/>
<line x1="1497.80" y1="415.80" x2="1497.80" y2="421.40" stroke="#000" stroke-width="1.5"/>
<line x1="1513.00" y1="779.90" x2="1513.00" y2="774.30" stroke="#000" stroke-width="1.5"/>
<line x1="1513.00" y1="415.80" x2="1513.00" y2="421.40" stroke="#000" stroke-width="1.5"/>
<line x1="1118.80" y1="769.74" x2="1123.60" y2="769.74" stroke="#777" stroke-width="1.0"/>
<line x1="1528.10" y1="769.74" x2="1523.30" y2="769.74" stroke="#000" stroke-width="1.5"/>
<line x1="1118.80" y1="759.33" x2="1123.60" y2="759.33" stroke="#777" stroke-width="1.0"/>
<line x1="1528.10" y1="759.33" x2="1523.30" y2="759.33" stroke="#000" stroke-width="1.5"/>
<line x1="1118.80" y1="748.93" x2="1123.60" y2="748.93" stroke="#777" stroke-width="1.0"/>
<line x1="1528.10" y1="748.93" x2="1523.30" y2="748.93" stroke="#000" stroke-width="1.5"/>
<line x1="1118.80" y1="738.52" x2="1123.60" y2="738.52" stroke="#777" stroke-width="1.0"/>
<line x1="1528.10" y1="738.52" x2="1523.30" y2="738.52" stroke="#000" stroke-width="1.5"/>
<line x1="1118.80" y1="728.12" x2="1130.80" y2="728.12" stroke="#444" stroke-width="1.2"/>
<line x1="1528.10" y1="728.12" x2="1516.10" y2="728.12" stroke="#000" stroke-width="2.4"/>
<line x1="1118.80" y1="717.72" x2="1123.60" y2="717.72" stroke="#777" stroke-width="1.0"/>
<line x1="1528.10" y1="717.72" x2="1523.30" y2="717.72" stroke="#000" stroke-width="1.5"/>
<line x1="1118.80" y1="707.31" x2="1123.60" y2="707.31" stroke="#777" stroke-width="1.0"/>
<line x1="1528.10" y1="707.31" x2="1523.30" y2="707.31" stroke="#000" stroke-width="1.5"/>
<line x1="1118.80" y1="696.91" x2="1123.60" y2="696.91" stroke="#777" stroke-width="1.0"/>
<line x1="1528.10" y1="696.91" x2="1523.30" y2="696.91" stroke="#000" stroke-width="1.5"/>
<line x1="1118.80" y1="686.50" x2="1123.60" y2="686.50" stroke="#777" stroke-width="1.0"/>
<line x1="1528.10" y1="686.50" x2="1523.30" y2="686.50" stroke="#000" stroke-width="1.5"/>
<line x1="1118.80" y1="676.10" x2="1130.80" y2="676.10" stroke="#444" stroke-width="1.2"/>
<line x1="1528.10" y1="676.10" x2="1516.10" y2="676.10" stroke="#000" stroke-width="2.4"/>
<line x1="1118.80" y1="665.70" x2="1123.60" y2="665.70" stroke="#777" stroke-width="1.0"/>
<line x1="1528.10" y1="665.70" x2="1523.30" y2="665.70" stroke="#000" stroke-width="1.5"/>
<line x1="1118.80" y1="655.29" x2="1123.60" y2="655.29" stroke="#777" stroke-width="1.0"/>
<line x1="1528.10" y1="655.29" x2="1523.30" y2="655.29" stroke="#000" stroke-width="1.5"/>
<line x1="1118.80" y1="644.89" x2="1123.60" y2="644.89" stroke="#777" stroke-width="1.0"/>
<line x1="1528.10" y1="644.89" x2="1523.30" y2="644.89" stroke="#000" stroke-width="1.5"/>
<line x1="1118.80" y1="634.48" x2="1123.60" y2="634.48" stroke="#777" stroke-width="1.0"/>
<line x1="1528.10" y1="634.48" x2="1523.30" y2="634.48" stroke="#000" stroke-width="1.5"/>
<line x1="1118.80" y1="624.08" x2="1130.80" y2="624.08" stroke="#444" stroke-width="1.2"/>
<line x1="1528.10" y1="624.08" x2="1516.10" y2="624.08" stroke="#000" stroke-width="2.4"/>
<line x1="1118.80" y1="613.68" x2="1123.60" y2="613.68" stroke="#777" stroke-width="1.0"/>
<line x1="1528.10" y1="613.68" x2="1523.30" y2="613.68" stroke="#000" stroke-width="1.5"/>
<line x1="1118.80" y1="603.27" x2="1123.60" y2="603.27" stroke="#777" stroke-width="1.0"/>
<line x1="1528.10" y1="603.27" x2="1523.30" y2="603.27" stroke="#000" stroke-width="1.5"/>
<line x1="1118.80" y1="592.87" x2="1123.60" y2="592.87" stroke="#777" stroke-width="1.0"/>
<line x1="1528.10" y1="592.87" x2="1523.30" y2="592.87" stroke="#000" stroke-width="1.5"/>
<line x1="1118.80" y1="582.46" x2="1123.60" y2="582.46" stroke="#777" stroke-width="1.0"/>
<line x1="1528.10" y1="582.46" x2="1523.30" y2="582.46" stroke="#000" stroke-width="1.5"/>
<line x1="1118.80" y1="572.06" x2="1130.80" y2="572.06" stroke="#444" stroke-width="1.2"/>
<line x1="1528.10" y1="572.06" x2="1516.10" y2="572.06" stroke="#000" stroke-width="2.4"/>
<line x1="1118.80" y1="561.66" x2="1123.60" y2="561.66" stroke="#777" stroke-width="1.0"/>
<line x1="1528.10" y1="561.66" x2="1523.30" y2="561.66" stroke="#000" stroke-width="1.5"/>
<line x1="1118.80" y1="551.25" x2="1123.60" y2="551.25" stroke="#777" stroke-width="1.0"/>
<line x1="1528.10" y1="551.25" x2="1523.30" y2="551.25" stroke="#000" stroke-width="1.5"/>
<line x1="1118.80" y1="540.85" x2="1123.60" y2="540.85" stroke="#777" stroke-width="1.0"/>
<line x1="1528.10" y1="540.85" x2="1523.30" y2="540.85" stroke="#000" stroke-width="1.5"/>
<line x1="1118.80" y1="530.44" x2="1123.60" y2="530.44" stroke="#777" stroke-width="1.0"/>
<line x1="1528.10" y1="530.44" x2="1523.30" y2="530.44" stroke="#000" stroke-width="1.5"/>
<line x1="1118.80" y1="520.04" x2="1130.80" y2="520.04" stroke="#444" stroke-width="1.2"/>
<line x1="1528.10" y1="520.04" x2="1516.10" y2="520.04" stroke="#000" stroke-width="2.4"/>
<line x1="1118.80" y1="509.64" x2="1123.60" y2="509.64" stroke="#777" stroke-width="1.0"/>
<line x1="1528.10" y1="509.64" x2="1523.30" y2="509.64" stroke="#000" stroke-width="1.5"/>
<line x1="1118.80" y1="499.23" x2="1123.60" y2="499.23" stroke="#777" stroke-width="1.0"/>
<line x1="1528.10" y1="499.23" x2="1523.30" y2="499.23" stroke="#000" stroke-width="1.5"/>
<line x1="1118.80" y1="488.83" x2="1123.60" y2="488.83" stroke="#777" stroke-width="1.0"/>
<line x1="1528.10" y1="488.83" x2="1523.30" y2="488.83" stroke="#000" stroke-width="1.5"/>
<line x1="1118.80" y1="478.42" x2="1123.60" y2="478.42" stroke="#777" stroke-width="1.0"/>
<line x1="1528.10" y1="478.42" x2="1523.30" y2="478.42" stroke="#000" stroke-width="1.5"/>
<line x1="1118.80" y1="468.02" x2="1130.80" y2="468.02" stroke="#444" stroke-width="1.2"/>
<line x1="1528.10" y1="468.02" x2="1516.10" y2="468.02" stroke="#000" stroke-width="2.4"/>
<line x1="1118.80" y1="457.62" x2="1123.60" y2="457.62" stroke="#777" stroke-width="1.0"/>
<line x1="1528.10" y1="457.62" x2="1523.30" y2="457.62" stroke="#000" stroke-width="1.5"/>
<line x1="1118.80" y1="447.21" x2="1123.60" y2="447.21" stroke="#777" stroke-width="1.0"/>
<line x1="1528.10" y1="447.21" x2="1523.30" y2="447.21" stroke="#000" stroke-width="1.5"/>
<line x1="1118.80" y1="436.81" x2="1123.60" y2="436.81" stroke="#777" stroke-width="1.0"/>
<line x1="1528.10" y1="436.81" x2="1523.30" y2="436.81" stroke="#000" stroke-width="1.5"/>
<line x1="1118.80" y1="426.40" x2="1123.60" y2="426.40" stroke="#777" stroke-width="1.0"/>
<line x1="1528.10" y1="426.40" x2="1523.30" y2="426.40" stroke="#000" stroke-width="1.5"/>
<text x="1111.20" y="787.04" font-size="18.5" text-anchor="end">-2.0</text>
<text x="1111.20" y="735.02" font-size="18.5" text-anchor="end">-1.0</text>
<text x="1111.20" y="683.00" font-size="18.5" text-anchor="end">0.0</text>
<text x="1111.20" y="630.98" font-size="18.5" text-anchor="end">1.0</text>
<text x="1111.20" y="578.96" font-size="18.5" text-anchor="end">2.0</text>
<text x="1111.20" y="526.94" font-size="18.5" text-anchor="end">3.0</text>
<text x="1111.20" y="474.92" font-size="18.5" text-anchor="end">4.0</text>
<text x="1111.20" y="422.90" font-size="18.5" text-anchor="end">5.0</text>
<text x="1147.70" y="801.2" font-size="18.5" text-anchor="middle">-1.0</text>
<text x="1223.70" y="801.2" font-size="18.5" text-anchor="middle">-0.5</text>
<text x="1299.70" y="801.2" font-size="18.5" text-anchor="middle">0.0</text>
<text x="1375.70" y="801.2" font-size="18.5" text-anchor="middle">0.5</text>
<text x="1451.70" y="801.2" font-size="18.5" text-anchor="middle">1.0</text>
<text x="1527.70" y="801.2" font-size="18.5" text-anchor="middle">1.5</text>
<text transform="translate(1322.45,834.0) scale(0.957,1)" font-size="22.4" text-anchor="middle">Dec<tspan dy="-9.41" font-size="13.89">0</tspan><tspan dy="9.41">​</tspan>-Feb<tspan dy="-9.41" font-size="13.89">1</tspan><tspan dy="9.41">​</tspan> ZL index<tspan font-size="1.3em" dy="0.05em" font-weight="normal" font-family="'Liberation Serif', 'DejaVu Serif', serif">×</tspan><tspan dy="-0.065em">​</tspan>(<tspan font-size="1.5em" dy="0.07em" font-weight="normal" font-family="'Liberation Serif', 'DejaVu Serif', serif">−</tspan><tspan dy="-0.105em">​</tspan>1) (<tspan dy="-9.41" font-size="13.89">o</tspan><tspan dy="9.41">​</tspan>C)</text>
<text transform="translate(1063.90,597.35) rotate(-90) scale(0.975,1)" font-size="22.6" text-anchor="middle">Dec<tspan dy="-9.49" font-size="14.01">-1</tspan><tspan dy="9.49">​</tspan>-Feb<tspan dy="-9.49" font-size="14.01">0</tspan><tspan dy="9.49">​</tspan> Niño3.4 index (<tspan dy="-9.49" font-size="14.01">o</tspan><tspan dy="9.49">​</tspan>C)</text>
<text x="1131.00" y="440.80" font-size="14.0" font-weight="bold" xml:space="preserve" style="white-space:pre" fill="#111">ZL<tspan font-size="1.3em" dy="0.05em" font-weight="normal" font-family="'Liberation Serif', 'DejaVu Serif', serif">×</tspan><tspan dy="-0.065em">​</tspan>(<tspan font-size="1.5em" dy="0.07em" font-weight="normal" font-family="'Liberation Serif', 'DejaVu Serif', serif">−</tspan><tspan dy="-0.105em">​</tspan>1)&gt;0.35 <tspan font-weight="bold">(35,</tspan><tspan font-weight="normal" fill="#474ca9">33</tspan><tspan font-weight="bold">)</tspan></text>
<text x="1131.00" y="457.15" font-size="14.0" font-weight="bold" xml:space="preserve" style="white-space:pre" fill="#111">ZL<tspan font-size="1.3em" dy="0.05em" font-weight="normal" font-family="'Liberation Serif', 'DejaVu Serif', serif">×</tspan><tspan dy="-0.065em">​</tspan>(<tspan font-size="1.5em" dy="0.07em" font-weight="normal" font-family="'Liberation Serif', 'DejaVu Serif', serif">−</tspan><tspan dy="-0.105em">​</tspan>1)&lt;0.35 <tspan font-weight="normal">(29,</tspan><tspan font-weight="bold" fill="#474ca9">179</tspan><tspan font-weight="normal">)</tspan></text>
</g>
<g>
<text x="1649.3" y="402.5" font-size="24.3" xml:space="preserve" style="white-space:pre"><tspan font-weight="bold">h</tspan>  La Niña, OBS</text>
<rect x="1649.50" y="413.20" width="409.50" height="364.20" fill="#f8f8fa"/>
<rect x="1885.66" y="413.20" width="173.34" height="364.20" fill="#fff"/>
<rect x="1866.16" y="766.60" width="37.2" height="21.5" fill="#963cb8"/>
<text x="1884.96" y="782.60" font-size="13.6" font-weight="bold" fill="#fff" text-anchor="middle">0.35</text>
<line x1="1679.90" y1="413.20" x2="1679.90" y2="777.40" stroke="#5a5a5a" stroke-width="1" stroke-dasharray="6.6 3.4"/>
<line x1="1755.70" y1="413.20" x2="1755.70" y2="777.40" stroke="#5a5a5a" stroke-width="1" stroke-dasharray="6.6 3.4"/>
<line x1="1831.50" y1="413.20" x2="1831.50" y2="777.40" stroke="#5a5a5a" stroke-width="1" stroke-dasharray="6.6 3.4"/>
<line x1="1907.30" y1="413.20" x2="1907.30" y2="777.40" stroke="#5a5a5a" stroke-width="1" stroke-dasharray="6.6 3.4"/>
<line x1="1983.10" y1="413.20" x2="1983.10" y2="777.40" stroke="#5a5a5a" stroke-width="1" stroke-dasharray="6.6 3.4"/>
<line x1="1649.50" y1="725.53" x2="2059.00" y2="725.53" stroke="#5a5a5a" stroke-width="1" stroke-dasharray="6.6 3.4"/>
<line x1="1649.50" y1="673.50" x2="2059.00" y2="673.50" stroke="#5a5a5a" stroke-width="1" stroke-dasharray="6.6 3.4"/>
<line x1="1649.50" y1="621.47" x2="2059.00" y2="621.47" stroke="#5a5a5a" stroke-width="1" stroke-dasharray="6.6 3.4"/>
<line x1="1649.50" y1="569.44" x2="2059.00" y2="569.44" stroke="#5a5a5a" stroke-width="1" stroke-dasharray="6.6 3.4"/>
<line x1="1649.50" y1="517.41" x2="2059.00" y2="517.41" stroke="#5a5a5a" stroke-width="1" stroke-dasharray="6.6 3.4"/>
<line x1="1649.50" y1="465.38" x2="2059.00" y2="465.38" stroke="#5a5a5a" stroke-width="1" stroke-dasharray="6.6 3.4"/>
<line x1="1885.66" y1="413.20" x2="1885.66" y2="777.40" stroke="#963cb8" stroke-width="2"/>
<circle cx="1905.25" cy="615" r="8.2" fill="#0c0c0c"/>
<circle cx="1846.5" cy="640.5" r="8.2" fill="#0c0c0c"/>
<circle cx="1855" cy="643.25" r="8.2" fill="#0c0c0c"/>
<circle cx="1910.75" cy="654" r="8.2" fill="#0c0c0c"/>
<circle cx="1913.25" cy="673.75" r="8.2" fill="#0c0c0c"/>
<circle cx="1954.5" cy="693.5" r="8.2" fill="#0c0c0c"/>
<circle cx="1870" cy="592" r="8.2" fill="#474ca9"/>
<circle cx="1870" cy="601.25" r="8.2" fill="#474ca9"/>
<circle cx="1887.75" cy="621.5" r="8.2" fill="#474ca9"/>
<circle cx="1876.5" cy="631.75" r="8.2" fill="#474ca9"/>
<circle cx="1882" cy="644.5" r="8.2" fill="#474ca9"/>
<circle cx="1874.5" cy="647" r="8.2" fill="#474ca9"/>
<circle cx="1842" cy="661.5" r="8.2" fill="#474ca9"/>
<circle cx="1863.25" cy="677.5" r="8.2" fill="#474ca9"/>
<circle cx="1919.5" cy="670.75" r="8.2" fill="#474ca9"/>
<circle cx="1983.75" cy="688.75" r="8.2" fill="#474ca9"/>
<circle cx="1809.5" cy="559.25" r="8.2" fill="#474ca9"/>
<circle cx="1815.75" cy="555" r="8.2" fill="#474ca9"/>
<rect x="1649.50" y="413.20" width="409.50" height="364.20" fill="none" stroke="#1a1a1a" stroke-width="1.2"/>
<line x1="1885.66" y1="413.20" x2="2060.50" y2="413.20" stroke="#000" stroke-width="2.4"/>
<line x1="2059.00" y1="413.20" x2="2059.00" y2="778.90" stroke="#000" stroke-width="2.4"/>
<line x1="1885.66" y1="777.40" x2="2059.00" y2="777.40" stroke="#000" stroke-width="2.4"/>
<line x1="1664.74" y1="777.40" x2="1664.74" y2="771.80" stroke="#777" stroke-width="1.0"/>
<line x1="1664.74" y1="413.20" x2="1664.74" y2="418.80" stroke="#777" stroke-width="1.0"/>
<line x1="1679.90" y1="777.40" x2="1679.90" y2="765.40" stroke="#444" stroke-width="1.2"/>
<line x1="1679.90" y1="413.20" x2="1679.90" y2="425.20" stroke="#444" stroke-width="1.2"/>
<line x1="1695.06" y1="777.40" x2="1695.06" y2="771.80" stroke="#777" stroke-width="1.0"/>
<line x1="1695.06" y1="413.20" x2="1695.06" y2="418.80" stroke="#777" stroke-width="1.0"/>
<line x1="1710.22" y1="777.40" x2="1710.22" y2="771.80" stroke="#777" stroke-width="1.0"/>
<line x1="1710.22" y1="413.20" x2="1710.22" y2="418.80" stroke="#777" stroke-width="1.0"/>
<line x1="1725.38" y1="777.40" x2="1725.38" y2="771.80" stroke="#777" stroke-width="1.0"/>
<line x1="1725.38" y1="413.20" x2="1725.38" y2="418.80" stroke="#777" stroke-width="1.0"/>
<line x1="1740.54" y1="777.40" x2="1740.54" y2="771.80" stroke="#777" stroke-width="1.0"/>
<line x1="1740.54" y1="413.20" x2="1740.54" y2="418.80" stroke="#777" stroke-width="1.0"/>
<line x1="1755.70" y1="777.40" x2="1755.70" y2="765.40" stroke="#444" stroke-width="1.2"/>
<line x1="1755.70" y1="413.20" x2="1755.70" y2="425.20" stroke="#444" stroke-width="1.2"/>
<line x1="1770.86" y1="777.40" x2="1770.86" y2="771.80" stroke="#777" stroke-width="1.0"/>
<line x1="1770.86" y1="413.20" x2="1770.86" y2="418.80" stroke="#777" stroke-width="1.0"/>
<line x1="1786.02" y1="777.40" x2="1786.02" y2="771.80" stroke="#777" stroke-width="1.0"/>
<line x1="1786.02" y1="413.20" x2="1786.02" y2="418.80" stroke="#777" stroke-width="1.0"/>
<line x1="1801.18" y1="777.40" x2="1801.18" y2="771.80" stroke="#777" stroke-width="1.0"/>
<line x1="1801.18" y1="413.20" x2="1801.18" y2="418.80" stroke="#777" stroke-width="1.0"/>
<line x1="1816.34" y1="777.40" x2="1816.34" y2="771.80" stroke="#777" stroke-width="1.0"/>
<line x1="1816.34" y1="413.20" x2="1816.34" y2="418.80" stroke="#777" stroke-width="1.0"/>
<line x1="1831.50" y1="777.40" x2="1831.50" y2="765.40" stroke="#444" stroke-width="1.2"/>
<line x1="1831.50" y1="413.20" x2="1831.50" y2="425.20" stroke="#444" stroke-width="1.2"/>
<line x1="1846.66" y1="777.40" x2="1846.66" y2="771.80" stroke="#777" stroke-width="1.0"/>
<line x1="1846.66" y1="413.20" x2="1846.66" y2="418.80" stroke="#777" stroke-width="1.0"/>
<line x1="1861.82" y1="777.40" x2="1861.82" y2="771.80" stroke="#777" stroke-width="1.0"/>
<line x1="1861.82" y1="413.20" x2="1861.82" y2="418.80" stroke="#777" stroke-width="1.0"/>
<line x1="1876.98" y1="777.40" x2="1876.98" y2="771.80" stroke="#777" stroke-width="1.0"/>
<line x1="1876.98" y1="413.20" x2="1876.98" y2="418.80" stroke="#777" stroke-width="1.0"/>
<line x1="1892.14" y1="777.40" x2="1892.14" y2="771.80" stroke="#000" stroke-width="1.5"/>
<line x1="1892.14" y1="413.20" x2="1892.14" y2="418.80" stroke="#000" stroke-width="1.5"/>
<line x1="1907.30" y1="777.40" x2="1907.30" y2="765.40" stroke="#000" stroke-width="2.4"/>
<line x1="1907.30" y1="413.20" x2="1907.30" y2="425.20" stroke="#000" stroke-width="2.4"/>
<line x1="1922.46" y1="777.40" x2="1922.46" y2="771.80" stroke="#000" stroke-width="1.5"/>
<line x1="1922.46" y1="413.20" x2="1922.46" y2="418.80" stroke="#000" stroke-width="1.5"/>
<line x1="1937.62" y1="777.40" x2="1937.62" y2="771.80" stroke="#000" stroke-width="1.5"/>
<line x1="1937.62" y1="413.20" x2="1937.62" y2="418.80" stroke="#000" stroke-width="1.5"/>
<line x1="1952.78" y1="777.40" x2="1952.78" y2="771.80" stroke="#000" stroke-width="1.5"/>
<line x1="1952.78" y1="413.20" x2="1952.78" y2="418.80" stroke="#000" stroke-width="1.5"/>
<line x1="1967.94" y1="777.40" x2="1967.94" y2="771.80" stroke="#000" stroke-width="1.5"/>
<line x1="1967.94" y1="413.20" x2="1967.94" y2="418.80" stroke="#000" stroke-width="1.5"/>
<line x1="1983.10" y1="777.40" x2="1983.10" y2="765.40" stroke="#000" stroke-width="2.4"/>
<line x1="1983.10" y1="413.20" x2="1983.10" y2="425.20" stroke="#000" stroke-width="2.4"/>
<line x1="1998.26" y1="777.40" x2="1998.26" y2="771.80" stroke="#000" stroke-width="1.5"/>
<line x1="1998.26" y1="413.20" x2="1998.26" y2="418.80" stroke="#000" stroke-width="1.5"/>
<line x1="2013.42" y1="777.40" x2="2013.42" y2="771.80" stroke="#000" stroke-width="1.5"/>
<line x1="2013.42" y1="413.20" x2="2013.42" y2="418.80" stroke="#000" stroke-width="1.5"/>
<line x1="2028.58" y1="777.40" x2="2028.58" y2="771.80" stroke="#000" stroke-width="1.5"/>
<line x1="2028.58" y1="413.20" x2="2028.58" y2="418.80" stroke="#000" stroke-width="1.5"/>
<line x1="2043.74" y1="777.40" x2="2043.74" y2="771.80" stroke="#000" stroke-width="1.5"/>
<line x1="2043.74" y1="413.20" x2="2043.74" y2="418.80" stroke="#000" stroke-width="1.5"/>
<line x1="1649.50" y1="767.15" x2="1654.30" y2="767.15" stroke="#777" stroke-width="1.0"/>
<line x1="2059.00" y1="767.15" x2="2054.20" y2="767.15" stroke="#000" stroke-width="1.5"/>
<line x1="1649.50" y1="756.75" x2="1654.30" y2="756.75" stroke="#777" stroke-width="1.0"/>
<line x1="2059.00" y1="756.75" x2="2054.20" y2="756.75" stroke="#000" stroke-width="1.5"/>
<line x1="1649.50" y1="746.34" x2="1654.30" y2="746.34" stroke="#777" stroke-width="1.0"/>
<line x1="2059.00" y1="746.34" x2="2054.20" y2="746.34" stroke="#000" stroke-width="1.5"/>
<line x1="1649.50" y1="735.94" x2="1654.30" y2="735.94" stroke="#777" stroke-width="1.0"/>
<line x1="2059.00" y1="735.94" x2="2054.20" y2="735.94" stroke="#000" stroke-width="1.5"/>
<line x1="1649.50" y1="725.53" x2="1661.50" y2="725.53" stroke="#444" stroke-width="1.2"/>
<line x1="2059.00" y1="725.53" x2="2047.00" y2="725.53" stroke="#000" stroke-width="2.4"/>
<line x1="1649.50" y1="715.12" x2="1654.30" y2="715.12" stroke="#777" stroke-width="1.0"/>
<line x1="2059.00" y1="715.12" x2="2054.20" y2="715.12" stroke="#000" stroke-width="1.5"/>
<line x1="1649.50" y1="704.72" x2="1654.30" y2="704.72" stroke="#777" stroke-width="1.0"/>
<line x1="2059.00" y1="704.72" x2="2054.20" y2="704.72" stroke="#000" stroke-width="1.5"/>
<line x1="1649.50" y1="694.31" x2="1654.30" y2="694.31" stroke="#777" stroke-width="1.0"/>
<line x1="2059.00" y1="694.31" x2="2054.20" y2="694.31" stroke="#000" stroke-width="1.5"/>
<line x1="1649.50" y1="683.91" x2="1654.30" y2="683.91" stroke="#777" stroke-width="1.0"/>
<line x1="2059.00" y1="683.91" x2="2054.20" y2="683.91" stroke="#000" stroke-width="1.5"/>
<line x1="1649.50" y1="673.50" x2="1661.50" y2="673.50" stroke="#444" stroke-width="1.2"/>
<line x1="2059.00" y1="673.50" x2="2047.00" y2="673.50" stroke="#000" stroke-width="2.4"/>
<line x1="1649.50" y1="663.09" x2="1654.30" y2="663.09" stroke="#777" stroke-width="1.0"/>
<line x1="2059.00" y1="663.09" x2="2054.20" y2="663.09" stroke="#000" stroke-width="1.5"/>
<line x1="1649.50" y1="652.69" x2="1654.30" y2="652.69" stroke="#777" stroke-width="1.0"/>
<line x1="2059.00" y1="652.69" x2="2054.20" y2="652.69" stroke="#000" stroke-width="1.5"/>
<line x1="1649.50" y1="642.28" x2="1654.30" y2="642.28" stroke="#777" stroke-width="1.0"/>
<line x1="2059.00" y1="642.28" x2="2054.20" y2="642.28" stroke="#000" stroke-width="1.5"/>
<line x1="1649.50" y1="631.88" x2="1654.30" y2="631.88" stroke="#777" stroke-width="1.0"/>
<line x1="2059.00" y1="631.88" x2="2054.20" y2="631.88" stroke="#000" stroke-width="1.5"/>
<line x1="1649.50" y1="621.47" x2="1661.50" y2="621.47" stroke="#444" stroke-width="1.2"/>
<line x1="2059.00" y1="621.47" x2="2047.00" y2="621.47" stroke="#000" stroke-width="2.4"/>
<line x1="1649.50" y1="611.06" x2="1654.30" y2="611.06" stroke="#777" stroke-width="1.0"/>
<line x1="2059.00" y1="611.06" x2="2054.20" y2="611.06" stroke="#000" stroke-width="1.5"/>
<line x1="1649.50" y1="600.66" x2="1654.30" y2="600.66" stroke="#777" stroke-width="1.0"/>
<line x1="2059.00" y1="600.66" x2="2054.20" y2="600.66" stroke="#000" stroke-width="1.5"/>
<line x1="1649.50" y1="590.25" x2="1654.30" y2="590.25" stroke="#777" stroke-width="1.0"/>
<line x1="2059.00" y1="590.25" x2="2054.20" y2="590.25" stroke="#000" stroke-width="1.5"/>
<line x1="1649.50" y1="579.85" x2="1654.30" y2="579.85" stroke="#777" stroke-width="1.0"/>
<line x1="2059.00" y1="579.85" x2="2054.20" y2="579.85" stroke="#000" stroke-width="1.5"/>
<line x1="1649.50" y1="569.44" x2="1661.50" y2="569.44" stroke="#444" stroke-width="1.2"/>
<line x1="2059.00" y1="569.44" x2="2047.00" y2="569.44" stroke="#000" stroke-width="2.4"/>
<line x1="1649.50" y1="559.03" x2="1654.30" y2="559.03" stroke="#777" stroke-width="1.0"/>
<line x1="2059.00" y1="559.03" x2="2054.20" y2="559.03" stroke="#000" stroke-width="1.5"/>
<line x1="1649.50" y1="548.63" x2="1654.30" y2="548.63" stroke="#777" stroke-width="1.0"/>
<line x1="2059.00" y1="548.63" x2="2054.20" y2="548.63" stroke="#000" stroke-width="1.5"/>
<line x1="1649.50" y1="538.22" x2="1654.30" y2="538.22" stroke="#777" stroke-width="1.0"/>
<line x1="2059.00" y1="538.22" x2="2054.20" y2="538.22" stroke="#000" stroke-width="1.5"/>
<line x1="1649.50" y1="527.82" x2="1654.30" y2="527.82" stroke="#777" stroke-width="1.0"/>
<line x1="2059.00" y1="527.82" x2="2054.20" y2="527.82" stroke="#000" stroke-width="1.5"/>
<line x1="1649.50" y1="517.41" x2="1661.50" y2="517.41" stroke="#444" stroke-width="1.2"/>
<line x1="2059.00" y1="517.41" x2="2047.00" y2="517.41" stroke="#000" stroke-width="2.4"/>
<line x1="1649.50" y1="507.00" x2="1654.30" y2="507.00" stroke="#777" stroke-width="1.0"/>
<line x1="2059.00" y1="507.00" x2="2054.20" y2="507.00" stroke="#000" stroke-width="1.5"/>
<line x1="1649.50" y1="496.60" x2="1654.30" y2="496.60" stroke="#777" stroke-width="1.0"/>
<line x1="2059.00" y1="496.60" x2="2054.20" y2="496.60" stroke="#000" stroke-width="1.5"/>
<line x1="1649.50" y1="486.19" x2="1654.30" y2="486.19" stroke="#777" stroke-width="1.0"/>
<line x1="2059.00" y1="486.19" x2="2054.20" y2="486.19" stroke="#000" stroke-width="1.5"/>
<line x1="1649.50" y1="475.79" x2="1654.30" y2="475.79" stroke="#777" stroke-width="1.0"/>
<line x1="2059.00" y1="475.79" x2="2054.20" y2="475.79" stroke="#000" stroke-width="1.5"/>
<line x1="1649.50" y1="465.38" x2="1661.50" y2="465.38" stroke="#444" stroke-width="1.2"/>
<line x1="2059.00" y1="465.38" x2="2047.00" y2="465.38" stroke="#000" stroke-width="2.4"/>
<line x1="1649.50" y1="454.97" x2="1654.30" y2="454.97" stroke="#777" stroke-width="1.0"/>
<line x1="2059.00" y1="454.97" x2="2054.20" y2="454.97" stroke="#000" stroke-width="1.5"/>
<line x1="1649.50" y1="444.57" x2="1654.30" y2="444.57" stroke="#777" stroke-width="1.0"/>
<line x1="2059.00" y1="444.57" x2="2054.20" y2="444.57" stroke="#000" stroke-width="1.5"/>
<line x1="1649.50" y1="434.16" x2="1654.30" y2="434.16" stroke="#777" stroke-width="1.0"/>
<line x1="2059.00" y1="434.16" x2="2054.20" y2="434.16" stroke="#000" stroke-width="1.5"/>
<line x1="1649.50" y1="423.76" x2="1654.30" y2="423.76" stroke="#777" stroke-width="1.0"/>
<line x1="2059.00" y1="423.76" x2="2054.20" y2="423.76" stroke="#000" stroke-width="1.5"/>
<text x="1641.90" y="784.46" font-size="18.5" text-anchor="end">-2.0</text>
<text x="1641.90" y="732.43" font-size="18.5" text-anchor="end">-1.0</text>
<text x="1641.90" y="680.40" font-size="18.5" text-anchor="end">0.0</text>
<text x="1641.90" y="628.37" font-size="18.5" text-anchor="end">1.0</text>
<text x="1641.90" y="576.34" font-size="18.5" text-anchor="end">2.0</text>
<text x="1641.90" y="524.31" font-size="18.5" text-anchor="end">3.0</text>
<text x="1641.90" y="472.28" font-size="18.5" text-anchor="end">4.0</text>
<text x="1641.90" y="420.25" font-size="18.5" text-anchor="end">5.0</text>
<text x="1679.40" y="799.2" font-size="18.5" text-anchor="middle">-1.0</text>
<text x="1755.20" y="799.2" font-size="18.5" text-anchor="middle">-0.5</text>
<text x="1831.00" y="799.2" font-size="18.5" text-anchor="middle">0.0</text>
<text x="1906.80" y="799.2" font-size="18.5" text-anchor="middle">0.5</text>
<text x="1982.60" y="799.2" font-size="18.5" text-anchor="middle">1.0</text>
<text x="2058.40" y="799.2" font-size="18.5" text-anchor="middle">1.5</text>
<text transform="translate(1853.25,831.5) scale(0.957,1)" font-size="22.4" text-anchor="middle">Dec<tspan dy="-9.41" font-size="13.89">0</tspan><tspan dy="9.41">​</tspan>-Feb<tspan dy="-9.41" font-size="13.89">1</tspan><tspan dy="9.41">​</tspan> ZL index<tspan font-size="1.3em" dy="0.05em" font-weight="normal" font-family="'Liberation Serif', 'DejaVu Serif', serif">×</tspan><tspan dy="-0.065em">​</tspan>(<tspan font-size="1.5em" dy="0.07em" font-weight="normal" font-family="'Liberation Serif', 'DejaVu Serif', serif">−</tspan><tspan dy="-0.105em">​</tspan>1) (<tspan dy="-9.41" font-size="13.89">o</tspan><tspan dy="9.41">​</tspan>C)</text>
<text transform="translate(1594.60,594.80) rotate(-90) scale(0.975,1)" font-size="22.6" text-anchor="middle">Dec<tspan dy="-9.49" font-size="14.01">-1</tspan><tspan dy="9.49">​</tspan>-Feb<tspan dy="-9.49" font-size="14.01">0</tspan><tspan dy="9.49">​</tspan> Niño3.4 index (<tspan dy="-9.49" font-size="14.01">o</tspan><tspan dy="9.49">​</tspan>C)</text>
<text x="1661.70" y="438.20" font-size="14.0" font-weight="bold" xml:space="preserve" style="white-space:pre" fill="#111">ZL<tspan font-size="1.3em" dy="0.05em" font-weight="normal" font-family="'Liberation Serif', 'DejaVu Serif', serif">×</tspan><tspan dy="-0.065em">​</tspan>(<tspan font-size="1.5em" dy="0.07em" font-weight="normal" font-family="'Liberation Serif', 'DejaVu Serif', serif">−</tspan><tspan dy="-0.105em">​</tspan>1)&gt;0.35 <tspan font-weight="bold">(4,</tspan><tspan font-weight="normal" fill="#474ca9">3</tspan><tspan font-weight="bold">)</tspan></text>
<text x="1661.70" y="454.55" font-size="14.0" font-weight="bold" xml:space="preserve" style="white-space:pre" fill="#111">ZL<tspan font-size="1.3em" dy="0.05em" font-weight="normal" font-family="'Liberation Serif', 'DejaVu Serif', serif">×</tspan><tspan dy="-0.065em">​</tspan>(<tspan font-size="1.5em" dy="0.07em" font-weight="normal" font-family="'Liberation Serif', 'DejaVu Serif', serif">−</tspan><tspan dy="-0.105em">​</tspan>1)&lt;0.35 <tspan font-weight="normal">(2,</tspan><tspan font-weight="bold" fill="#474ca9">9</tspan><tspan font-weight="normal">)</tspan></text>
</g>
</svg>
</body></html>
